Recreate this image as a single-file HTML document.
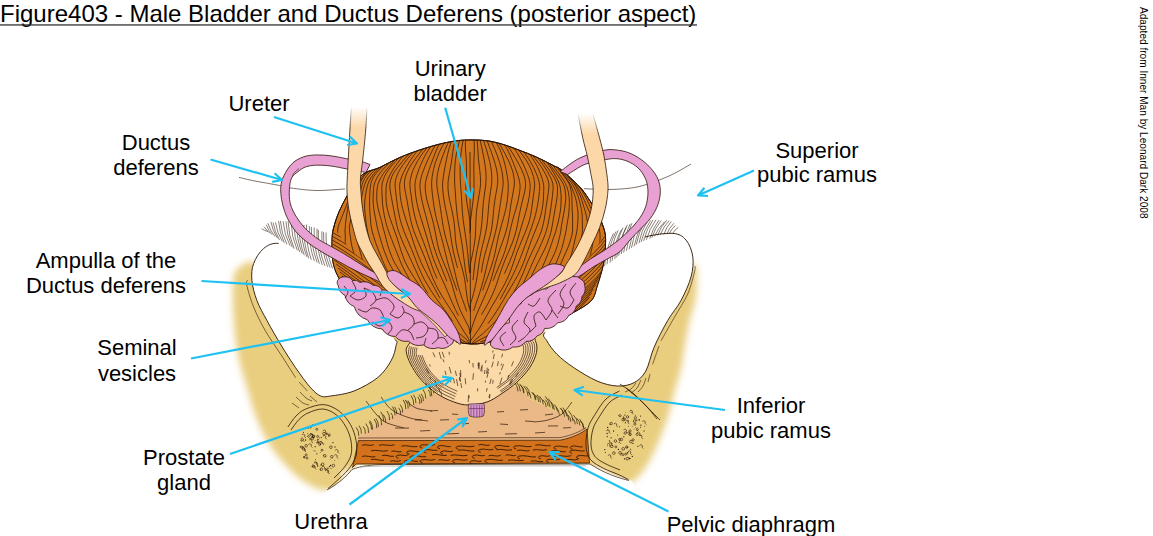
<!DOCTYPE html>
<html><head><meta charset="utf-8"><title>Figure403</title>
<style>html,body{margin:0;padding:0;background:#fff;}svg{display:block;}text{font-family:"Liberation Sans",sans-serif;}</style>
</head><body>
<svg width="1153" height="536" viewBox="0 0 1153 536">
<rect width="1153" height="536" fill="#fff"/>
<defs>
<filter id="blur" x="-20%" y="-20%" width="140%" height="140%"><feGaussianBlur stdDeviation="3.6"/></filter>
<linearGradient id="urL" x1="0" y1="106" x2="0" y2="128" gradientUnits="userSpaceOnUse"><stop offset="0" stop-color="#fff"/><stop offset="1" stop-color="#fcd7a8"/></linearGradient>
<linearGradient id="urLs" x1="0" y1="106" x2="0" y2="128" gradientUnits="userSpaceOnUse"><stop offset="0" stop-color="#fff"/><stop offset="1" stop-color="#2a1405"/></linearGradient>
<linearGradient id="urR" x1="0" y1="113" x2="0" y2="134" gradientUnits="userSpaceOnUse"><stop offset="0" stop-color="#fff"/><stop offset="1" stop-color="#fcd7a8"/></linearGradient>
<linearGradient id="urRs" x1="0" y1="113" x2="0" y2="134" gradientUnits="userSpaceOnUse"><stop offset="0" stop-color="#fff"/><stop offset="1" stop-color="#2a1405"/></linearGradient>
</defs>
<g filter="url(#blur)"><path d="M240.0,267.0 C243.7,265.0 246.0,258.5 256.0,264.0 C266.0,269.5 282.7,289.0 300.0,300.0 C317.3,311.0 331.7,325.0 360.0,330.0 C388.3,335.0 433.3,330.0 470.0,330.0 C506.7,330.0 551.7,335.0 580.0,330.0 C608.3,325.0 622.3,310.7 640.0,300.0 C657.7,289.3 676.7,271.3 686.0,266.0 C695.3,260.7 694.4,262.9 696.0,268.0 C697.6,273.1 696.8,288.0 695.8,296.7 C694.8,305.4 691.6,312.2 689.8,320.0 C688.0,327.8 686.4,335.7 685.0,343.5 C683.6,351.3 683.2,359.1 681.5,366.8 C679.8,374.6 677.1,382.2 675.0,390.0 C672.9,397.8 671.4,405.8 669.0,413.6 C666.6,421.4 663.7,429.3 660.5,437.0 C657.3,444.7 654.1,453.0 650.0,460.0 C645.9,467.0 641.0,475.0 636.0,479.0 C631.0,483.0 627.3,485.8 620.0,484.0 C612.7,482.2 617.0,470.7 592.0,468.0 C567.0,465.3 510.0,467.7 470.0,468.0 C430.0,468.3 373.7,467.0 352.0,470.0 C330.3,473.0 344.8,482.7 340.0,486.0 C335.2,489.3 329.3,491.0 323.0,490.0 C316.7,489.0 309.2,485.2 302.0,480.0 C294.8,474.8 286.2,466.2 280.0,459.0 C273.8,451.8 269.2,444.6 265.0,437.0 C260.8,429.4 257.6,421.4 254.7,413.6 C251.8,405.8 250.0,397.8 247.7,390.0 C245.4,382.2 242.6,374.6 240.7,366.8 C238.8,359.1 237.2,351.3 236.0,343.5 C234.8,335.7 234.2,327.8 233.7,320.0 C233.2,312.2 232.8,304.0 232.8,296.7 C232.8,289.4 232.5,280.9 233.7,276.0 C234.9,271.1 236.3,269.0 240.0,267.0Z" fill="#e9ce7f"/></g>
<path d="M250.0,275.0 C253.3,273.0 253.7,265.8 262.0,270.0 C270.3,274.2 283.7,290.0 300.0,300.0 C316.3,310.0 331.7,325.0 360.0,330.0 C388.3,335.0 433.3,330.0 470.0,330.0 C506.7,330.0 551.7,335.0 580.0,330.0 C608.3,325.0 623.3,309.7 640.0,300.0 C656.7,290.3 672.0,276.0 680.0,272.0 C688.0,268.0 686.8,271.9 688.0,276.0 C689.2,280.1 688.2,289.4 687.0,296.7 C685.8,304.0 682.8,312.2 681.0,320.0 C679.2,327.8 677.7,335.7 676.0,343.5 C674.3,351.3 673.0,359.1 671.0,366.8 C669.0,374.6 666.2,382.2 664.0,390.0 C661.8,397.8 660.3,405.8 658.0,413.6 C655.7,421.4 652.8,430.1 650.0,437.0 C647.2,443.9 644.5,449.5 641.0,455.0 C637.5,460.5 633.5,466.8 629.0,470.0 C624.5,473.2 620.2,475.3 614.0,474.0 C607.8,472.7 616.0,464.0 592.0,462.0 C568.0,460.0 510.0,462.0 470.0,462.0 C430.0,462.0 373.7,459.0 352.0,462.0 C330.3,465.0 344.5,476.3 340.0,480.0 C335.5,483.7 330.7,485.0 325.0,484.0 C319.3,483.0 312.5,478.8 306.0,474.0 C299.5,469.2 291.7,461.8 286.0,455.0 C280.3,448.2 275.8,440.5 272.0,433.0 C268.2,425.5 265.7,417.5 263.0,410.0 C260.3,402.5 258.3,395.3 256.0,388.0 C253.7,380.7 251.0,373.5 249.0,366.0 C247.0,358.5 245.2,350.7 244.0,343.0 C242.8,335.3 242.5,327.7 242.0,320.0 C241.5,312.3 241.0,303.3 241.0,297.0 C241.0,290.7 240.5,285.7 242.0,282.0 C243.5,278.3 246.7,277.0 250.0,275.0Z" fill="#e9ce7f"/>
<path d="M278.7,243.4 C272.0,242.8 267.8,245.1 263.6,248.5 C259.4,251.9 255.6,258.3 253.6,263.6 C251.6,268.9 251.4,274.2 251.9,280.3 C252.4,286.4 254.4,293.8 256.9,300.5 C259.4,307.2 263.1,313.4 267.0,320.6 C270.9,327.9 275.6,336.2 280.4,344.0 C285.1,351.8 290.5,360.3 295.5,367.6 C300.5,374.9 306.4,383.0 310.6,387.7 C314.8,392.4 317.4,394.6 320.7,396.0 C324.0,397.4 325.1,396.8 330.7,396.0 C336.2,395.2 346.2,394.1 354.0,391.0 C361.8,387.9 371.5,382.6 377.7,377.6 C383.9,372.6 387.9,366.2 391.0,360.9 C394.1,355.6 395.4,349.4 396.0,345.8 C396.6,342.2 398.7,342.6 394.5,339.0 C390.3,335.4 377.8,328.8 371.0,324.0 C364.2,319.2 358.8,315.5 354.0,310.5 C349.2,305.5 345.5,299.7 342.5,293.8 C339.5,287.9 339.6,280.3 336.0,275.0 C332.4,269.7 326.0,265.8 320.7,262.0 C315.4,258.2 311.0,255.1 304.0,252.0 C297.0,248.9 285.4,244.0 278.7,243.4Z" fill="#fff"/>
<path d="M278.7,243.4 C272.0,242.8 267.8,245.1 263.6,248.5 C259.4,251.9 255.6,258.3 253.6,263.6 C251.6,268.9 251.4,274.2 251.9,280.3 C252.4,286.4 254.4,293.8 256.9,300.5 C259.4,307.2 263.1,313.4 267.0,320.6 C270.9,327.9 275.6,336.2 280.4,344.0 C285.1,351.8 290.5,360.3 295.5,367.6 C300.5,374.9 306.4,383.0 310.6,387.7 C314.8,392.4 317.4,394.6 320.7,396.0 C324.0,397.4 325.1,396.8 330.7,396.0 C336.2,395.2 346.2,394.1 354.0,391.0 C361.8,387.9 371.5,382.6 377.7,377.6 C383.9,372.6 387.9,366.2 391.0,360.9 C394.1,355.6 395.4,349.4 396.0,345.8 C396.6,342.2 398.7,342.6 394.5,339.0" fill="none" stroke="#2a1405" stroke-width="0.9"/>
<path d="M672.7,233.4 C679.5,233.9 682.6,236.1 686.0,240.0 C689.4,243.9 692.0,250.7 692.8,256.9 C693.6,263.1 693.0,269.7 691.0,277.0 C689.0,284.3 684.9,293.2 681.0,300.5 C677.1,307.8 672.1,312.9 667.6,320.7 C663.1,328.5 657.6,339.1 654.0,347.5 C650.4,355.9 649.1,365.1 645.8,371.0 C642.5,376.9 638.8,380.2 634.0,382.7 C629.2,385.2 623.5,386.3 617.3,386.0 C611.1,385.7 604.3,384.1 597.0,381.0 C589.7,377.9 580.4,372.1 573.7,367.6 C567.0,363.1 561.4,358.7 556.9,354.2 C552.4,349.7 548.8,344.4 546.8,340.8 C544.8,337.2 541.6,336.4 545.0,332.4 C548.4,328.4 561.1,322.9 567.0,317.0 C572.9,311.1 575.2,303.2 580.4,297.0 C585.6,290.8 594.1,285.8 598.0,280.0 C601.9,274.2 600.3,267.5 604.0,262.0 C607.7,256.5 613.2,251.2 620.0,247.0 C626.8,242.8 636.2,239.3 645.0,237.0 C653.8,234.7 665.9,232.9 672.7,233.4Z" fill="#fff"/>
<path d="M645.0,237.0 C653.8,234.7 665.9,232.9 672.7,233.4 C679.5,233.9 682.6,236.1 686.0,240.0 C689.4,243.9 692.0,250.7 692.8,256.9 C693.6,263.1 693.0,269.7 691.0,277.0 C689.0,284.3 684.9,293.2 681.0,300.5 C677.1,307.8 672.1,312.9 667.6,320.7 C663.1,328.5 657.6,339.1 654.0,347.5 C650.4,355.9 649.1,365.1 645.8,371.0 C642.5,376.9 638.8,380.2 634.0,382.7 C629.2,385.2 623.5,386.3 617.3,386.0 C611.1,385.7 604.3,384.1 597.0,381.0 C589.7,377.9 580.4,372.1 573.7,367.6 C567.0,363.1 561.4,358.7 556.9,354.2 C552.4,349.7 548.8,344.4 546.8,340.8 C544.8,337.2 541.6,336.4 545.0,332.4" fill="none" stroke="#2a1405" stroke-width="0.9"/>
<g fill="none" stroke="#2a1405" stroke-width="0.6"><path d="M247.5,280.0 C247.4,280.9 245.8,280.8 246.8,285.3 C247.8,289.8 250.5,299.4 253.6,307.0 C256.7,314.6 260.8,322.9 265.3,330.7 C269.8,338.5 275.4,346.2 280.5,354.0 C285.6,361.8 293.1,373.8 295.6,377.7"/><path d="M299.0,382.0 C300.4,383.5 306.0,389.5 307.4,391.0"/><path d="M695.0,266.0 C694.9,267.0 695.7,267.4 694.5,272.0 C693.3,276.6 691.1,286.2 687.8,293.8 C684.4,301.4 678.9,309.5 674.4,317.3 C669.9,325.1 663.2,336.9 661.0,340.8"/><path d="M659.0,346.0 C657.9,349.1 653.7,361.2 652.6,364.3"/><path d="M300.0,392.0 C301.0,393.0 304.0,396.5 306.0,398.0 C308.0,399.5 311.0,400.5 312.0,401.0"/><path d="M296.0,397.0 C297.2,398.0 300.8,401.7 303.0,403.0 C305.2,404.3 308.0,404.7 309.0,405.0"/><path d="M292.0,403.0 C293.2,403.8 297.8,407.2 299.0,408.0"/><path d="M310.0,396.0 C311.2,397.0 315.8,401.0 317.0,402.0"/><path d="M636.0,383.0 C635.2,384.0 632.8,387.5 631.0,389.0 C629.2,390.5 626.0,391.5 625.0,392.0"/><path d="M641.0,380.0 C640.3,381.3 638.7,385.8 637.0,388.0 C635.3,390.2 632.0,392.2 631.0,393.0"/><path d="M646.0,378.0 C645.5,379.3 644.3,383.7 643.0,386.0 C641.7,388.3 638.8,391.0 638.0,392.0"/><path d="M650.0,374.0 C649.7,375.3 648.3,380.7 648.0,382.0"/></g>
<g fill="none" stroke="#2a1405" stroke-width="0.55"><path d="M267.8,231.5 Q264.4,230.7 261.6,228.7"/><path d="M269.9,233.2 Q266.4,230.5 264.2,226.8"/><path d="M272.3,234.8 Q268.3,230.4 266.3,224.7"/><path d="M275.0,236.5 Q270.1,230.6 267.9,223.2"/><path d="M277.4,238.2 Q272.5,230.6 270.9,221.8"/><path d="M279.5,239.9 Q274.6,231.8 273.1,222.6"/><path d="M282.3,241.4 Q277.0,232.6 275.5,222.4"/><path d="M284.3,242.9 Q279.3,232.5 278.6,221.1"/><path d="M286.9,244.3 Q281.3,233.3 280.4,220.9"/><path d="M290.0,245.8 Q284.1,234.2 283.1,221.2"/><path d="M292.3,247.3 Q286.5,235.0 285.9,221.4"/><path d="M294.2,248.8 Q288.4,235.6 288.1,221.3"/><path d="M297.3,250.4 Q291.3,236.7 291.1,221.8"/><path d="M299.6,252.0 Q293.7,237.7 293.7,222.2"/><path d="M302.2,253.7 Q296.3,238.6 296.6,222.5"/><path d="M304.3,255.3 Q298.5,240.1 299.0,223.9"/><path d="M306.9,256.9 Q300.9,241.3 301.3,224.7"/><path d="M308.7,258.4 Q303.0,242.2 304.0,225.0"/><path d="M311.3,259.8 Q305.4,242.6 306.6,224.5"/><path d="M314.4,261.1 Q308.4,244.1 309.4,226.1"/><path d="M317.2,262.5 Q310.7,245.3 311.4,226.9"/><path d="M319.4,263.8 Q313.2,246.2 314.2,227.4"/><path d="M322.3,265.1 Q316.0,247.3 317.0,228.6"/><path d="M324.9,265.9 Q318.0,248.6 318.3,230.0"/><path d="M327.6,266.8 Q321.2,249.6 321.8,231.3"/><path d="M330.0,267.6 Q323.2,250.6 323.5,232.2"/><path d="M332.5,268.5 Q325.6,251.1 326.0,232.5"/><path d="M604.6,266.0 Q605.8,248.8 613.5,233.4"/><path d="M607.0,264.3 Q608.2,247.0 616.0,231.5"/><path d="M610.1,262.6 Q610.9,245.6 618.1,230.3"/><path d="M612.1,260.8 Q613.6,244.3 621.4,229.6"/><path d="M614.8,259.1 Q615.7,242.6 623.0,227.7"/><path d="M616.6,257.4 Q618.3,241.4 626.0,227.3"/><path d="M618.7,255.7 Q620.0,239.4 627.4,224.8"/><path d="M621.2,254.0 Q622.7,238.2 630.1,224.1"/><path d="M623.7,252.5 Q625.0,237.0 632.0,223.1"/><path d="M626.3,250.9 Q628.1,236.4 635.3,223.6"/><path d="M629.1,249.4 Q630.8,235.2 637.9,222.8"/><path d="M631.5,247.8 Q633.2,234.5 640.0,222.8"/><path d="M634.1,246.3 Q636.4,233.4 643.6,222.3"/><path d="M636.2,244.7 Q638.5,231.8 645.6,220.9"/><path d="M638.9,243.2 Q641.1,230.9 647.8,220.4"/><path d="M641.1,242.0 Q643.7,230.3 650.6,220.5"/><path d="M643.6,240.9 Q646.2,229.5 653.0,220.0"/><path d="M646.4,239.8 Q649.2,228.8 656.1,219.8"/><path d="M649.8,238.6 Q652.6,228.5 659.0,220.1"/><path d="M651.9,237.5 Q654.9,228.1 661.3,220.5"/><path d="M654.5,236.4 Q658.0,228.0 664.6,221.6"/><path d="M657.5,235.4 Q660.6,226.9 666.8,220.2"/><path d="M660.1,235.0 Q663.2,226.9 669.2,220.6"/><path d="M663.7,234.7 Q666.1,227.3 671.3,221.5"/><path d="M666.7,234.3 Q669.1,228.1 673.8,223.3"/><path d="M669.2,233.9 Q671.4,229.1 675.3,225.5"/><path d="M672.5,233.5 Q674.8,229.8 678.4,227.3"/></g>
<g fill="none" stroke="#2a1405" stroke-width="0.6"><path d="M239.0,177.4 C241.7,178.0 248.2,179.7 255.0,181.0 C261.8,182.3 273.6,184.3 279.6,185.5 C285.6,186.7 284.9,187.2 291.0,188.0 C297.1,188.8 307.0,190.3 316.0,190.5 C325.0,190.7 340.2,189.2 345.0,189.0"/><path d="M584.0,188.7 C588.3,188.8 600.8,189.8 610.0,189.5 C619.2,189.2 629.2,188.8 639.0,186.6 C648.8,184.3 660.3,179.8 669.0,176.0 C677.7,172.2 687.3,166.0 691.0,164.0"/></g>
<path d="M358,437 L377,425 L404,409 L430,396 L440,390 L500,384 L521,388 L530,399 L560,414 L586,428 L586,442 L358,442 Z" fill="#ebb987"/>
<path d="M300,540 L300,512 L327,490.5 C338,484 347,476 352,469.5 L358,465 L590,464 C600,469 612,475 632,481 L660,540 Z" fill="#fff"/>
<path d="M358.4,440.6 L560,440.2 C572,438 582,433 587,429 L589.5,463 L356,464 L352.5,467.5 Z" fill="#d4721b" stroke="#2a1405" stroke-width="0.7"/>
<path d="M358,438 L560,437.6 C572,435.5 581,431 586,427.5" fill="none" stroke="#2a1405" stroke-width="0.6"/>
<clipPath id="cband"><path d="M358.4,440.6 L560,440.2 C572,438 582,433 587,429 L589.5,463 L356,464 Z"/></clipPath>
<g clip-path="url(#cband)" fill="none" stroke="#2a1405" stroke-width="0.85"><path d="M362.0,445.2 c3.9,-1.5 7.9,1.5 11.8,-0.5"/><path d="M379.0,445.2 c5.2,-1.5 10.3,1.5 15.5,-0.4"/><path d="M401.4,446.1 c5.3,-1.5 10.6,1.5 16.0,0.5"/><path d="M421.2,445.2 c4.5,-1.5 9.1,1.5 13.6,-0.8"/><path d="M421.2,445.2 c-2,0.5 -2,2.5 1,2.8"/><path d="M439.0,445.9 c3.9,-1.5 7.9,1.5 11.8,0.7"/><path d="M439.0,445.9 c-2,0.5 -2,2.5 1,2.8"/><path d="M457.5,446.4 c5.6,-1.5 11.3,1.5 16.9,-0.2"/><path d="M457.5,446.4 c-2,0.5 -2,2.5 1,2.8"/><path d="M478.4,444.9 c3.8,-1.5 7.6,1.5 11.4,0.2"/><path d="M496.1,445.8 c4.5,-1.5 8.9,1.5 13.4,0.5"/><path d="M496.1,445.8 c-2,0.5 -2,2.5 1,2.8"/><path d="M515.1,446.1 c5.5,-1.5 10.9,1.5 16.4,0.4"/><path d="M515.1,446.1 c-2,0.5 -2,2.5 1,2.8"/><path d="M535.2,445.2 c5.2,-1.5 10.3,1.5 15.5,0.5"/><path d="M555.3,446.4 c4.3,-1.5 8.5,1.5 12.8,0.4"/><path d="M555.3,446.4 c-2,0.5 -2,2.5 1,2.8"/><path d="M571.6,446.3 c3.7,-1.5 7.4,1.5 11.1,0.5"/><path d="M571.6,446.3 c-2,0.5 -2,2.5 1,2.8"/><path d="M371.0,450.8 c5.6,-1.5 11.2,1.5 16.9,-0.2"/><path d="M391.4,451.4 c3.4,-1.5 6.7,1.5 10.1,0.2"/><path d="M408.2,451.2 c4.3,-1.5 8.7,1.5 13.0,0.5"/><path d="M408.2,451.2 c-2,0.5 -2,2.5 1,2.8"/><path d="M425.3,450.0 c4.0,-1.5 8.0,1.5 12.1,0.1"/><path d="M425.3,450.0 c-2,0.5 -2,2.5 1,2.8"/><path d="M442.0,451.3 c3.6,-1.5 7.3,1.5 10.9,-0.2"/><path d="M442.0,451.3 c-2,0.5 -2,2.5 1,2.8"/><path d="M458.2,450.3 c5.4,-1.5 10.9,1.5 16.3,0.7"/><path d="M479.7,449.5 c4.6,-1.5 9.1,1.5 13.7,-0.1"/><path d="M479.7,449.5 c-2,0.5 -2,2.5 1,2.8"/><path d="M496.4,449.8 c5.2,-1.5 10.4,1.5 15.6,-0.0"/><path d="M517.2,450.5 c4.1,-1.5 8.2,1.5 12.3,0.1"/><path d="M532.9,450.0 c4.6,-1.5 9.3,1.5 13.9,-0.4"/><path d="M551.9,451.0 c4.6,-1.5 9.3,1.5 13.9,0.7"/><path d="M551.9,451.0 c-2,0.5 -2,2.5 1,2.8"/><path d="M571.2,450.5 c4.5,-1.5 9.0,1.5 13.5,0.3"/><path d="M571.2,450.5 c-2,0.5 -2,2.5 1,2.8"/><path d="M362.0,456.4 c4.4,-1.5 8.9,1.5 13.3,0.3"/><path d="M382.1,455.6 c3.9,-1.5 7.9,1.5 11.8,0.7"/><path d="M397.5,455.4 c3.6,-1.5 7.2,1.5 10.9,-0.7"/><path d="M397.5,455.4 c-2,0.5 -2,2.5 1,2.8"/><path d="M411.6,456.1 c4.9,-1.5 9.8,1.5 14.7,0.6"/><path d="M411.6,456.1 c-2,0.5 -2,2.5 1,2.8"/><path d="M432.2,454.8 c4.9,-1.5 9.7,1.5 14.6,0.6"/><path d="M450.7,455.3 c5.6,-1.5 11.1,1.5 16.7,-0.0"/><path d="M473.7,455.4 c3.7,-1.5 7.4,1.5 11.1,0.0"/><path d="M473.7,455.4 c-2,0.5 -2,2.5 1,2.8"/><path d="M488.6,455.9 c4.1,-1.5 8.2,1.5 12.2,-0.8"/><path d="M505.6,455.2 c3.4,-1.5 6.8,1.5 10.1,0.2"/><path d="M519.0,456.1 c5.6,-1.5 11.3,1.5 16.9,0.8"/><path d="M519.0,456.1 c-2,0.5 -2,2.5 1,2.8"/><path d="M539.9,456.1 c3.4,-1.5 6.9,1.5 10.3,-0.4"/><path d="M539.9,456.1 c-2,0.5 -2,2.5 1,2.8"/><path d="M554.9,456.1 c5.5,-1.5 10.9,1.5 16.4,-0.4"/><path d="M554.9,456.1 c-2,0.5 -2,2.5 1,2.8"/><path d="M577.9,455.9 c4.7,-1.5 9.3,1.5 14.0,-0.7"/><path d="M577.9,455.9 c-2,0.5 -2,2.5 1,2.8"/><path d="M371.0,459.6 c4.3,-1.5 8.7,1.5 13.0,0.7"/><path d="M390.2,461.2 c3.5,-1.5 7.1,1.5 10.6,-0.7"/><path d="M405.6,460.6 c4.1,-1.5 8.2,1.5 12.4,0.7"/><path d="M405.6,460.6 c-2,0.5 -2,2.5 1,2.8"/><path d="M421.5,460.0 c4.6,-1.5 9.1,1.5 13.7,-0.6"/><path d="M421.5,460.0 c-2,0.5 -2,2.5 1,2.8"/><path d="M438.4,460.1 c3.8,-1.5 7.6,1.5 11.4,-0.3"/><path d="M453.9,459.9 c4.5,-1.5 9.0,1.5 13.5,-0.2"/><path d="M453.9,459.9 c-2,0.5 -2,2.5 1,2.8"/><path d="M471.4,461.0 c3.4,-1.5 6.7,1.5 10.1,0.1"/><path d="M471.4,461.0 c-2,0.5 -2,2.5 1,2.8"/><path d="M486.4,459.7 c5.5,-1.5 11.0,1.5 16.5,0.5"/><path d="M486.4,459.7 c-2,0.5 -2,2.5 1,2.8"/><path d="M508.0,460.3 c5.3,-1.5 10.6,1.5 15.8,0.0"/><path d="M530.7,461.2 c4.1,-1.5 8.3,1.5 12.4,0.3"/><path d="M547.8,459.6 c4.1,-1.5 8.3,1.5 12.4,-0.6"/><path d="M547.8,459.6 c-2,0.5 -2,2.5 1,2.8"/><path d="M566.2,459.8 c3.9,-1.5 7.9,1.5 11.8,-0.7"/></g>
<path d="M327,490 C338,484 347,476 352,469.5 C362,465.5 372,464.8 385,464.5 L590,464 C598,469 610,476 629,480.5" fill="none" stroke="#2a1405" stroke-width="0.7"/>
<path d="M360,467 C368,466.5 376,466 390,466 L586,465.8" fill="none" stroke="#999" stroke-width="0.7"/>
<g fill="none" stroke="#2a1405" stroke-width="0.7"><path d="M395.0,428.0 l14.0,0.1"/><path d="M420.0,431.0 l10.0,-0.5"/><path d="M447.0,434.0 l12.0,-0.6"/><path d="M478.0,432.0 l9.0,-0.5"/><path d="M505.0,434.0 l12.0,-0.3"/><path d="M535.0,433.0 l10.0,-0.7"/><path d="M440.0,420.0 l9.0,-0.3"/><path d="M462.0,424.0 l7.0,-0.6"/><path d="M500.0,424.0 l8.0,0.5"/><path d="M525.0,421.0 l9.0,0.6"/><path d="M548.0,426.0 l10.0,-0.1"/><path d="M430.0,411.0 l8.0,-0.6"/><path d="M452.0,414.0 l6.0,0.5"/><path d="M497.0,412.0 l7.0,-0.5"/><path d="M520.0,410.0 l8.0,-0.4"/><path d="M545.0,415.0 l8.0,-1.0"/><path d="M563.0,428.0 l8.0,-0.4"/><path d="M415.0,420.0 l7.0,-0.2"/><path d="M470.0,412.0 l5.0,-0.2"/><path d="M366.0,401.0 C367.7,403.2 372.7,410.4 376.0,414.0 C379.3,417.6 381.3,420.2 386.0,422.5 C390.7,424.8 401.0,427.1 404.0,428.0"/><path d="M381.0,397.0 C382.8,399.2 387.2,406.5 392.0,410.0 C396.8,413.5 404.0,416.2 410.0,418.0 C416.0,419.8 425.0,420.5 428.0,421.0"/><path d="M405.0,400.0 C406.8,401.3 411.5,406.2 416.0,408.0 C420.5,409.8 429.3,410.5 432.0,411.0"/><path d="M572.0,402.0 C570.3,404.0 566.0,411.0 562.0,414.0 C558.0,417.0 552.7,418.7 548.0,420.0 C543.3,421.3 536.3,421.7 534.0,422.0"/></g>
<g fill="none" stroke="#2a1405" stroke-width="0.7"><path d="M358.8,435.9 q0.2,-5.1 -2.6,-8.5"/><path d="M361.4,433.7 q0.3,-4.8 -2.4,-8.0"/><path d="M365.3,433.6 q0.4,-4.3 -2.1,-7.2"/><path d="M368.6,432.9 q0.2,-5.6 -2.8,-9.3"/><path d="M371.5,429.4 q0.3,-4.6 -2.3,-7.6"/><path d="M372.6,429.7 q0.2,-5.5 -2.8,-9.2"/><path d="M376.8,428.1 q0.2,-5.5 -2.7,-9.1"/><path d="M378.4,426.9 q0.2,-5.2 -2.6,-8.6"/><path d="M381.7,425.3 q0.1,-6.1 -3.0,-10.1"/><path d="M383.6,421.2 q0.1,-5.7 -2.8,-9.5"/><path d="M385.6,422.3 q0.3,-4.7 -2.3,-7.8"/><path d="M389.6,420.1 q0.2,-5.5 -2.7,-9.1"/><path d="M392.6,418.8 q0.5,-3.6 -1.8,-6.0"/><path d="M395.0,415.3 q0.2,-5.2 -2.6,-8.7"/><path d="M396.7,414.2 q0.3,-4.4 -2.2,-7.3"/><path d="M400.7,414.8 q0.4,-4.2 -2.1,-7.0"/><path d="M402.6,412.5 q0.3,-4.7 -2.4,-7.9"/><path d="M405.8,409.0 q0.2,-5.5 -2.7,-9.1"/><path d="M408.2,408.5 q0.3,-4.4 -2.2,-7.3"/><path d="M409.8,406.6 q0.5,-3.6 -1.8,-6.1"/><path d="M413.8,405.1 q0.1,-5.7 -2.8,-9.5"/><path d="M415.9,403.1 q0.3,-5.0 -2.5,-8.3"/><path d="M419.9,403.9 q0.4,-4.2 -2.1,-7.0"/><path d="M421.6,402.9 q0.3,-5.0 -2.5,-8.3"/><path d="M423.4,401.1 q0.3,-4.4 -2.2,-7.3"/><path d="M425.7,398.4 q0.2,-5.3 -2.7,-8.9"/><path d="M430.3,396.5 q0.4,-4.0 -2.0,-6.7"/><path d="M431.8,396.1 q0.1,-5.7 -2.9,-9.5"/><path d="M433.7,393.5 q0.4,-3.7 -1.8,-6.1"/><path d="M436.6,391.6 q0.3,-4.5 -2.3,-7.5"/><path d="M584.1,429.3 q-0.4,-6.1 -4.6,-10.2"/><path d="M583.3,427.7 q0.1,-4.0 -3.0,-6.6"/><path d="M579.9,425.4 q-0.0,-4.5 -3.4,-7.4"/><path d="M577.5,424.1 q-0.2,-5.4 -4.0,-8.9"/><path d="M575.2,424.3 q0.2,-3.7 -2.8,-6.2"/><path d="M573.1,421.2 q-0.4,-6.4 -4.8,-10.7"/><path d="M570.9,421.9 q0.1,-4.2 -3.1,-6.9"/><path d="M568.9,420.3 q-0.4,-6.0 -4.5,-10.1"/><path d="M566.7,416.3 q-0.2,-5.2 -3.9,-8.7"/><path d="M564.6,416.8 q-0.1,-5.0 -3.7,-8.3"/><path d="M563.0,414.1 q0.2,-3.7 -2.8,-6.2"/><path d="M559.3,414.6 q-0.0,-4.6 -3.5,-7.7"/><path d="M557.4,411.7 q0.0,-4.4 -3.3,-7.3"/><path d="M554.4,410.1 q-0.1,-4.8 -3.6,-8.0"/><path d="M553.0,409.1 q-0.4,-6.3 -4.7,-10.5"/><path d="M550.1,407.3 q-0.5,-6.6 -4.9,-11.0"/><path d="M548.1,406.1 q0.1,-3.9 -2.9,-6.5"/><path d="M546.2,407.1 q0.0,-4.4 -3.3,-7.3"/><path d="M543.3,404.5 q-0.1,-4.8 -3.6,-8.1"/><path d="M540.5,402.5 q-0.0,-4.6 -3.5,-7.7"/><path d="M538.7,402.0 q0.1,-4.0 -3.0,-6.6"/><path d="M536.0,399.6 q0.0,-4.2 -3.2,-7.1"/><path d="M535.4,400.3 q-0.1,-4.9 -3.7,-8.2"/><path d="M530.9,398.3 q0.2,-3.7 -2.7,-6.1"/><path d="M529.7,394.8 q-0.1,-5.0 -3.8,-8.4"/><path d="M528.2,396.3 q-0.4,-6.4 -4.8,-10.6"/><path d="M524.1,392.6 q0.0,-4.3 -3.3,-7.2"/><path d="M523.8,393.2 q-0.3,-5.6 -4.2,-9.4"/><path d="M520.4,391.3 q-0.3,-5.9 -4.4,-9.8"/><path d="M518.1,391.3 q-0.3,-5.9 -4.5,-9.9"/></g>
<g fill="none" stroke="#2a1405" stroke-width="0.8"><path d="M287.9,427.0 C289.2,425.2 293.0,419.0 296.0,416.0 C299.0,413.0 301.2,410.9 305.8,409.0 C310.4,407.1 318.1,404.2 323.7,404.6 C329.3,405.0 334.9,408.0 339.4,411.3 C343.9,414.6 347.7,419.9 350.5,424.7 C353.3,429.5 355.1,435.2 356.0,440.4 C356.9,445.6 357.3,451.1 356.0,456.0 C354.7,460.9 351.5,465.4 348.3,469.5 C345.1,473.6 340.4,477.5 337.0,480.7 C333.6,483.9 329.5,487.2 328.0,488.5"/><path d="M291.0,430.0 C292.3,428.2 296.2,422.3 299.0,419.5 C301.8,416.7 304.0,414.8 308.0,413.0 C312.0,411.2 318.2,408.7 323.0,409.0 C327.8,409.3 332.7,412.0 336.5,415.0 C340.3,418.0 343.6,422.7 346.0,427.0 C348.4,431.3 350.2,436.3 351.0,441.0 C351.8,445.7 352.1,450.7 351.0,455.0 C349.9,459.3 347.3,463.2 344.5,467.0 C341.7,470.8 335.8,476.2 334.0,478.0"/><path d="M619.5,391.0 C617.2,392.3 610.1,395.1 606.0,399.0 C601.9,402.9 597.9,409.9 594.9,414.7 C591.9,419.5 589.5,422.8 588.0,428.0 C586.5,433.2 585.6,440.8 586.0,446.0 C586.4,451.2 587.4,455.8 590.4,459.5 C593.4,463.2 598.9,465.8 603.8,468.4 C608.6,471.0 615.4,473.1 619.5,475.0 C623.6,476.9 626.9,478.8 628.4,479.6"/><path d="M622.0,395.0 C620.0,396.2 613.8,398.4 610.0,402.0 C606.2,405.6 602.3,412.0 599.5,416.5 C596.7,421.0 594.4,424.2 593.0,429.0 C591.6,433.8 590.7,440.4 591.0,445.0 C591.3,449.6 592.5,453.3 595.0,456.5 C597.5,459.7 601.8,461.8 606.0,464.0 C610.2,466.2 617.7,469.0 620.0,470.0"/><path d="M626.0,388.0 C628.3,390.0 635.7,396.0 640.0,400.0 C644.3,404.0 648.7,408.7 652.0,412.0 C655.3,415.3 658.7,418.7 660.0,420.0"/><path d="M620.0,384.0 C622.3,385.7 629.3,390.0 634.0,394.0 C638.7,398.0 644.2,403.8 648.0,408.0 C651.8,412.2 655.5,417.2 657.0,419.0"/></g>
<g fill="none" stroke="#2a1405" stroke-width="0.6"><circle cx="319.3" cy="438.1" r="0.48" fill="#2a1405" stroke="none"/><circle cx="325.8" cy="456.7" r="0.42" fill="#2a1405" stroke="none"/><circle cx="320.2" cy="452.6" r="0.47" fill="#2a1405" stroke="none"/><circle cx="312.8" cy="424.8" r="0.54" fill="#2a1405" stroke="none"/><path d="M335.1,450.4 q1.5,-2 3,0 q-1,2 1,3"/><circle cx="312.7" cy="436.8" r="0.69" fill="#2a1405" stroke="none"/><circle cx="321.2" cy="437.6" r="0.55" fill="#2a1405" stroke="none"/><circle cx="322.2" cy="443.2" r="0.60" fill="#2a1405" stroke="none"/><circle cx="300.3" cy="446.8" r="0.60" fill="#2a1405" stroke="none"/><circle cx="313.5" cy="466.5" r="1.10"/><circle cx="317.5" cy="466.2" r="0.47" fill="#2a1405" stroke="none"/><path d="M322.8,436.3 q1.5,-2 3,0 q-1,2 1,3"/><circle cx="312.5" cy="434.4" r="0.53" fill="#2a1405" stroke="none"/><circle cx="331.0" cy="468.2" r="0.52" fill="#2a1405" stroke="none"/><path d="M302.1,449.1 q1.5,-2 3,0 q-1,2 1,3"/><path d="M334.2,455.5 q1.5,-2 3,0 q-1,2 1,3"/><circle cx="328.9" cy="435.9" r="0.68" fill="#2a1405" stroke="none"/><circle cx="321.2" cy="441.4" r="0.50" fill="#2a1405" stroke="none"/><path d="M308.4,444.6 q1.5,-2 3,0 q-1,2 1,3"/><circle cx="306.2" cy="445.7" r="1.29"/><circle cx="308.1" cy="428.6" r="0.51" fill="#2a1405" stroke="none"/><circle cx="320.5" cy="469.2" r="0.52" fill="#2a1405" stroke="none"/><circle cx="332.5" cy="457.9" r="0.41" fill="#2a1405" stroke="none"/><path d="M314.5,463.4 q1.5,-2 3,0 q-1,2 1,3"/><path d="M309.0,440.2 q1.5,-2 3,0 q-1,2 1,3"/><circle cx="317.7" cy="436.5" r="0.99"/><circle cx="333.3" cy="465.6" r="1.37"/><path d="M325.0,470.7 q1.5,-2 3,0 q-1,2 1,3"/><circle cx="310.1" cy="438.6" r="0.55" fill="#2a1405" stroke="none"/><circle cx="331.8" cy="456.7" r="1.26"/><circle cx="318.5" cy="439.7" r="0.51" fill="#2a1405" stroke="none"/><circle cx="312.7" cy="464.4" r="0.42" fill="#2a1405" stroke="none"/><circle cx="304.0" cy="456.9" r="0.69" fill="#2a1405" stroke="none"/><circle cx="303.4" cy="432.2" r="0.55" fill="#2a1405" stroke="none"/><circle cx="323.8" cy="444.1" r="0.53" fill="#2a1405" stroke="none"/><circle cx="324.8" cy="455.8" r="1.31"/><circle cx="316.8" cy="429.3" r="0.98"/><circle cx="318.0" cy="442.3" r="0.92"/><circle cx="305.6" cy="440.0" r="0.67" fill="#2a1405" stroke="none"/><circle cx="317.5" cy="439.9" r="0.70" fill="#2a1405" stroke="none"/><circle cx="313.6" cy="436.3" r="1.19"/><circle cx="322.7" cy="464.3" r="1.35"/><path d="M300.5,438.9 q1.5,-2 3,0 q-1,2 1,3"/><circle cx="328.0" cy="468.2" r="0.66" fill="#2a1405" stroke="none"/><circle cx="312.3" cy="438.3" r="1.37"/><circle cx="307.1" cy="458.1" r="0.93"/><circle cx="307.7" cy="433.7" r="0.48" fill="#2a1405" stroke="none"/><circle cx="323.8" cy="455.0" r="0.40" fill="#2a1405" stroke="none"/><circle cx="315.5" cy="459.4" r="0.49" fill="#2a1405" stroke="none"/><circle cx="313.6" cy="466.3" r="0.42" fill="#2a1405" stroke="none"/><circle cx="303.5" cy="448.7" r="1.18"/><circle cx="322.7" cy="442.5" r="0.49" fill="#2a1405" stroke="none"/><circle cx="329.3" cy="434.9" r="1.01"/><path d="M321.6,467.1 q1.5,-2 3,0 q-1,2 1,3"/><circle cx="308.5" cy="436.4" r="0.92"/><circle cx="321.1" cy="464.9" r="0.66" fill="#2a1405" stroke="none"/><circle cx="311.0" cy="433.6" r="0.57" fill="#2a1405" stroke="none"/><circle cx="329.5" cy="466.6" r="0.59" fill="#2a1405" stroke="none"/><circle cx="314.0" cy="450.7" r="0.48" fill="#2a1405" stroke="none"/><circle cx="326.0" cy="468.7" r="0.55" fill="#2a1405" stroke="none"/><path d="M301.9,435.0 q1.5,-2 3,0 q-1,2 1,3"/><circle cx="332.9" cy="442.6" r="0.68" fill="#2a1405" stroke="none"/><circle cx="321.3" cy="469.3" r="1.29"/><circle cx="312.1" cy="466.4" r="0.52" fill="#2a1405" stroke="none"/><circle cx="334.7" cy="460.4" r="0.47" fill="#2a1405" stroke="none"/><circle cx="315.1" cy="451.0" r="0.44" fill="#2a1405" stroke="none"/><path d="M313.8,462.5 q1.5,-2 3,0 q-1,2 1,3"/><circle cx="304.4" cy="457.3" r="0.82"/><circle cx="322.0" cy="450.2" r="0.98"/><circle cx="316.9" cy="453.8" r="0.60" fill="#2a1405" stroke="none"/><circle cx="315.2" cy="446.7" r="0.59" fill="#2a1405" stroke="none"/><circle cx="313.1" cy="436.7" r="1.27"/><circle cx="311.2" cy="434.4" r="0.43" fill="#2a1405" stroke="none"/><circle cx="304.9" cy="450.1" r="0.53" fill="#2a1405" stroke="none"/><circle cx="310.5" cy="427.3" r="0.85"/><circle cx="330.2" cy="459.3" r="0.42" fill="#2a1405" stroke="none"/><path d="M316.0,443.2 q1.5,-2 3,0 q-1,2 1,3"/><path d="M322.8,430.9 q1.5,-2 3,0 q-1,2 1,3"/><path d="M325.6,470.5 q1.5,-2 3,0 q-1,2 1,3"/><path d="M312.2,466.4 q1.5,-2 3,0 q-1,2 1,3"/><circle cx="301.6" cy="447.1" r="0.90"/><circle cx="326.8" cy="433.8" r="0.89"/><circle cx="325.3" cy="468.7" r="0.48" fill="#2a1405" stroke="none"/><circle cx="315.1" cy="440.4" r="0.45" fill="#2a1405" stroke="none"/><circle cx="330.5" cy="465.5" r="0.64" fill="#2a1405" stroke="none"/><circle cx="306.2" cy="454.9" r="1.02"/><circle cx="330.9" cy="447.2" r="1.33"/><circle cx="320.3" cy="442.5" r="0.96"/><circle cx="335.0" cy="446.9" r="0.63" fill="#2a1405" stroke="none"/><circle cx="310.6" cy="434.5" r="0.83"/><circle cx="324.0" cy="433.7" r="1.39"/><circle cx="323.5" cy="455.7" r="0.40" fill="#2a1405" stroke="none"/><circle cx="320.5" cy="444.5" r="0.67" fill="#2a1405" stroke="none"/><circle cx="301.6" cy="440.5" r="0.81"/><circle cx="303.0" cy="446.9" r="0.58" fill="#2a1405" stroke="none"/><circle cx="634.9" cy="424.1" r="1.08"/><circle cx="624.9" cy="415.1" r="0.59" fill="#2a1405" stroke="none"/><circle cx="628.8" cy="457.6" r="0.48" fill="#2a1405" stroke="none"/><circle cx="630.1" cy="430.8" r="1.07"/><circle cx="632.3" cy="456.4" r="0.67" fill="#2a1405" stroke="none"/><circle cx="607.9" cy="430.2" r="0.47" fill="#2a1405" stroke="none"/><path d="M606.4,430.6 q1.5,-2 3,0 q-1,2 1,3"/><circle cx="620.1" cy="415.7" r="1.10"/><circle cx="620.3" cy="455.0" r="0.49" fill="#2a1405" stroke="none"/><path d="M629.5,411.2 q1.5,-2 3,0 q-1,2 1,3"/><circle cx="627.7" cy="452.7" r="0.65" fill="#2a1405" stroke="none"/><circle cx="633.1" cy="439.8" r="1.07"/><circle cx="625.5" cy="412.6" r="0.41" fill="#2a1405" stroke="none"/><circle cx="611.8" cy="446.3" r="1.31"/><circle cx="637.3" cy="429.4" r="1.06"/><circle cx="633.0" cy="443.4" r="0.59" fill="#2a1405" stroke="none"/><circle cx="623.1" cy="419.7" r="1.37"/><path d="M636.9,433.0 q1.5,-2 3,0 q-1,2 1,3"/><path d="M625.3,421.1 q1.5,-2 3,0 q-1,2 1,3"/><circle cx="623.2" cy="448.9" r="1.39"/><circle cx="613.9" cy="453.1" r="1.31"/><circle cx="615.9" cy="446.9" r="0.98"/><circle cx="611.1" cy="437.8" r="0.67" fill="#2a1405" stroke="none"/><circle cx="628.4" cy="416.6" r="0.41" fill="#2a1405" stroke="none"/><circle cx="626.8" cy="447.1" r="1.24"/><circle cx="607.1" cy="433.5" r="0.65" fill="#2a1405" stroke="none"/><circle cx="618.8" cy="415.4" r="0.41" fill="#2a1405" stroke="none"/><circle cx="627.2" cy="458.7" r="1.30"/><circle cx="634.1" cy="428.9" r="0.43" fill="#2a1405" stroke="none"/><circle cx="640.5" cy="427.2" r="0.53" fill="#2a1405" stroke="none"/><circle cx="611.0" cy="443.6" r="0.50" fill="#2a1405" stroke="none"/><path d="M639.4,445.6 q1.5,-2 3,0 q-1,2 1,3"/><circle cx="640.5" cy="416.1" r="0.53" fill="#2a1405" stroke="none"/><circle cx="637.2" cy="434.4" r="1.12"/><circle cx="604.8" cy="449.6" r="0.65" fill="#2a1405" stroke="none"/><path d="M607.0,444.5 q1.5,-2 3,0 q-1,2 1,3"/><circle cx="607.7" cy="427.5" r="0.64" fill="#2a1405" stroke="none"/><circle cx="613.6" cy="431.0" r="0.65" fill="#2a1405" stroke="none"/><circle cx="624.4" cy="419.0" r="1.10"/><circle cx="607.3" cy="436.6" r="0.64" fill="#2a1405" stroke="none"/><circle cx="622.9" cy="454.7" r="1.01"/><path d="M623.5,430.0 q1.5,-2 3,0 q-1,2 1,3"/><circle cx="605.3" cy="452.4" r="0.51" fill="#2a1405" stroke="none"/><circle cx="644.0" cy="430.9" r="0.56" fill="#2a1405" stroke="none"/><circle cx="625.7" cy="454.1" r="1.01"/><circle cx="627.5" cy="416.9" r="1.20"/><circle cx="640.9" cy="425.2" r="0.63" fill="#2a1405" stroke="none"/><circle cx="636.7" cy="420.1" r="0.67" fill="#2a1405" stroke="none"/><circle cx="623.5" cy="417.1" r="0.61" fill="#2a1405" stroke="none"/><circle cx="644.7" cy="426.3" r="0.47" fill="#2a1405" stroke="none"/><circle cx="617.6" cy="434.9" r="0.50" fill="#2a1405" stroke="none"/><path d="M642.3,421.6 q1.5,-2 3,0 q-1,2 1,3"/><path d="M613.8,424.1 q1.5,-2 3,0 q-1,2 1,3"/><circle cx="627.6" cy="453.8" r="0.46" fill="#2a1405" stroke="none"/><circle cx="639.2" cy="420.2" r="0.52" fill="#2a1405" stroke="none"/><circle cx="611.2" cy="423.5" r="1.22"/><circle cx="620.5" cy="443.5" r="0.44" fill="#2a1405" stroke="none"/><circle cx="630.0" cy="434.2" r="1.34"/><circle cx="619.7" cy="439.4" r="1.05"/><path d="M609.0,443.0 q1.5,-2 3,0 q-1,2 1,3"/><path d="M627.8,451.8 q1.5,-2 3,0 q-1,2 1,3"/><circle cx="626.2" cy="447.2" r="0.49" fill="#2a1405" stroke="none"/><circle cx="639.1" cy="419.6" r="0.63" fill="#2a1405" stroke="none"/><circle cx="627.6" cy="447.3" r="0.53" fill="#2a1405" stroke="none"/><circle cx="619.2" cy="442.2" r="0.60" fill="#2a1405" stroke="none"/><circle cx="621.7" cy="453.5" r="0.55" fill="#2a1405" stroke="none"/><circle cx="634.6" cy="421.1" r="1.36"/><circle cx="635.4" cy="417.7" r="1.12"/><circle cx="630.9" cy="441.6" r="1.30"/><path d="M627.1,433.0 q1.5,-2 3,0 q-1,2 1,3"/><circle cx="609.4" cy="440.8" r="0.63" fill="#2a1405" stroke="none"/><circle cx="631.1" cy="412.6" r="0.52" fill="#2a1405" stroke="none"/><circle cx="610.0" cy="424.1" r="0.61" fill="#2a1405" stroke="none"/><circle cx="625.4" cy="422.8" r="0.62" fill="#2a1405" stroke="none"/><circle cx="637.9" cy="446.3" r="0.64" fill="#2a1405" stroke="none"/><circle cx="628.1" cy="420.9" r="0.63" fill="#2a1405" stroke="none"/><circle cx="630.7" cy="449.2" r="0.57" fill="#2a1405" stroke="none"/><circle cx="615.4" cy="441.1" r="1.29"/><circle cx="628.5" cy="426.3" r="0.44" fill="#2a1405" stroke="none"/><path d="M639.0,435.9 q1.5,-2 3,0 q-1,2 1,3"/><circle cx="619.6" cy="426.7" r="0.53" fill="#2a1405" stroke="none"/><circle cx="637.3" cy="430.3" r="0.49" fill="#2a1405" stroke="none"/><circle cx="625.2" cy="433.1" r="1.20"/><path d="M607.9,455.6 q1.5,-2 3,0 q-1,2 1,3"/><circle cx="629.9" cy="458.4" r="0.65" fill="#2a1405" stroke="none"/><circle cx="635.9" cy="427.6" r="0.44" fill="#2a1405" stroke="none"/><circle cx="607.7" cy="445.7" r="0.45" fill="#2a1405" stroke="none"/><circle cx="629.6" cy="458.7" r="0.67" fill="#2a1405" stroke="none"/><circle cx="620.1" cy="452.8" r="1.34"/><circle cx="624.5" cy="458.9" r="0.61" fill="#2a1405" stroke="none"/><circle cx="618.5" cy="449.4" r="0.66" fill="#2a1405" stroke="none"/><circle cx="632.2" cy="426.4" r="0.44" fill="#2a1405" stroke="none"/><circle cx="635.6" cy="415.2" r="0.44" fill="#2a1405" stroke="none"/><circle cx="623.8" cy="436.8" r="0.66" fill="#2a1405" stroke="none"/><circle cx="621.3" cy="439.5" r="1.30"/></g>
<clipPath id="cpro"><path d="M407.7,345.9 C405.5,348.6 406.0,350.7 406.8,354.3 C407.6,357.9 409.9,363.0 412.4,367.3 C414.9,371.6 417.7,376.0 421.7,380.4 C425.7,384.8 431.3,389.8 436.6,393.4 C441.9,397.0 448.1,399.9 453.4,401.8 C458.7,403.7 462.8,405.0 468.4,405.0 C474.0,405.0 481.4,403.9 487.0,402.0 C492.6,400.1 497.0,396.7 502.0,393.4 C507.0,390.1 512.2,386.5 516.9,382.2 C521.5,377.9 526.6,372.3 529.9,367.3 C533.2,362.3 535.6,356.8 536.5,352.4 C537.4,348.0 536.9,343.7 535.5,341.2 C534.1,338.7 538.9,338.9 528.0,337.5 C517.1,336.1 488.0,332.9 470.0,333.0 C452.0,333.1 430.4,335.9 420.0,338.0 C409.6,340.1 409.9,343.2 407.7,345.9Z"/></clipPath>
<path d="M407.7,345.9 C405.5,348.6 406.0,350.7 406.8,354.3 C407.6,357.9 409.9,363.0 412.4,367.3 C414.9,371.6 417.7,376.0 421.7,380.4 C425.7,384.8 431.3,389.8 436.6,393.4 C441.9,397.0 448.1,399.9 453.4,401.8 C458.7,403.7 462.8,405.0 468.4,405.0 C474.0,405.0 481.4,403.9 487.0,402.0 C492.6,400.1 497.0,396.7 502.0,393.4 C507.0,390.1 512.2,386.5 516.9,382.2 C521.5,377.9 526.6,372.3 529.9,367.3 C533.2,362.3 535.6,356.8 536.5,352.4 C537.4,348.0 536.9,343.7 535.5,341.2 C534.1,338.7 538.9,338.9 528.0,337.5 C517.1,336.1 488.0,332.9 470.0,333.0 C452.0,333.1 430.4,335.9 420.0,338.0 C409.6,340.1 409.9,343.2 407.7,345.9Z" fill="#fbdaa8" stroke="#2a1405" stroke-width="0.9"/>
<g clip-path="url(#cpro)" fill="none" stroke="#2a1405" stroke-width="0.65"><path d="M409.6,346.3 C409.4,347.6 407.9,351.0 408.7,354.4 C409.5,357.9 411.7,362.8 414.1,367.0 C416.5,371.2 419.2,375.5 423.1,379.7 C427.1,383.9 435.2,390.2 437.6,392.3"/><path d="M411.4,346.6 C411.3,347.9 409.9,351.2 410.6,354.5 C411.3,357.9 413.5,362.7 415.9,366.7 C418.2,370.8 420.8,375.0 424.6,379.1 C428.4,383.1 433.6,387.9 438.6,391.3 C443.6,394.6 451.8,397.9 454.4,399.2"/><path d="M413.3,347.0 C413.2,348.3 411.8,351.4 412.5,354.6 C413.2,357.9 415.3,362.5 417.6,366.5 C419.8,370.4 422.4,374.4 426.0,378.4 C429.7,382.3 437.3,388.2 439.6,390.2"/><path d="M415.2,347.4 C415.0,348.6 413.7,351.6 414.4,354.7 C415.1,357.9 417.1,362.4 419.3,366.2 C421.5,370.0 423.9,373.9 427.5,377.7 C431.0,381.5 436.0,386.0 440.6,389.2 C445.3,392.3 452.9,395.3 455.4,396.5"/><path d="M417.0,347.7 C416.9,348.9 415.6,351.8 416.3,354.9 C416.9,357.9 418.9,362.2 421.0,365.9 C423.2,369.6 425.5,373.3 428.9,377.0 C432.4,380.7 439.5,386.2 441.6,388.1"/><path d="M418.2,355.0 C418.9,356.7 420.7,362.1 422.8,365.6 C424.8,369.2 427.1,372.8 430.4,376.4 C433.7,379.9 438.3,384.1 442.6,387.0 C446.9,390.0 454.1,392.8 456.4,393.9"/><path d="M420.1,355.1 C420.8,356.8 422.5,361.9 424.5,365.3 C426.5,368.8 428.7,372.3 431.8,375.7 C435.0,379.1 441.7,384.3 443.6,386.0"/><path d="M422.0,355.2 C422.7,356.8 424.3,361.8 426.2,365.1 C428.1,368.4 430.2,371.7 433.3,375.0 C436.4,378.3 440.6,382.2 444.6,384.9 C448.6,387.6 455.3,390.2 457.4,391.3"/><path d="M500.9,392.2 C503.3,390.4 510.9,385.6 515.4,381.4 C519.8,377.2 524.8,371.8 527.9,367.0 C531.1,362.2 533.4,356.8 534.3,352.6 C535.2,348.3 534.7,344.1 533.3,341.7 C532.0,339.3 527.3,338.7 526.1,338.1"/><path d="M499.9,391.0 C502.2,389.3 509.5,384.6 513.8,380.5 C518.1,376.5 522.9,371.3 525.9,366.6 C529.0,362.0 531.2,356.8 532.1,352.7 C533.0,348.6 532.5,344.6 531.2,342.2 C529.9,339.9 525.3,339.4 524.2,338.8"/><path d="M512.3,379.7 C514.2,377.5 521.0,370.8 524.0,366.3 C526.9,361.8 529.1,356.8 529.9,352.9 C530.8,348.9 530.3,345.0 529.0,342.8 C527.7,340.5 523.4,340.0 522.3,339.4"/><path d="M497.8,388.6 C499.9,387.0 506.7,382.7 510.7,378.9 C514.7,375.1 519.2,370.3 522.0,366.0 C524.8,361.6 526.9,356.8 527.7,353.0 C528.5,349.2 528.1,345.5 526.9,343.3 C525.6,341.1 521.4,340.6 520.3,340.1"/><path d="M496.7,387.4 C498.8,385.9 505.3,381.7 509.2,378.1 C513.0,374.4 517.3,369.8 520.0,365.6 C522.7,361.5 524.7,356.8 525.5,353.2 C526.3,349.5 525.9,345.9 524.7,343.8 C523.5,341.7 519.5,341.2 518.4,340.7"/><path d="M507.6,377.2 C509.4,375.2 515.4,369.3 518.0,365.3 C520.7,361.3 522.6,356.8 523.3,353.3 C524.1,349.8 523.7,346.3 522.5,344.3 C521.4,342.4 517.5,341.9 516.5,341.4"/><path d="M460.6,370.1 l0.2,6.8"/><path d="M485.5,380.5 l-0.2,2.1"/><path d="M489.8,394.7 l-0.2,3.7"/><path d="M473.5,373.3 l-0.7,6.5"/><path d="M493.2,380.0 l-0.5,3.7"/><path d="M459.8,372.8 l0.7,4.6"/><path d="M445.0,370.9 l1.1,4.1"/><path d="M503.5,364.1 l-2.2,6.1"/><path d="M472.9,363.0 l0.3,4.5"/><path d="M487.2,388.0 l-0.8,3.7"/><path d="M453.4,378.1 l1.1,5.2"/><path d="M428.8,384.7 l2.7,6.4"/><path d="M429.7,364.4 l0.5,2.0"/><path d="M512.5,379.2 l-2.0,5.3"/><path d="M511.4,379.4 l-2.0,5.1"/><path d="M491.2,378.6 l-1.4,5.4"/><path d="M488.4,372.0 l-1.5,5.8"/><path d="M442.2,351.8 l2.0,5.9"/><path d="M487.3,367.7 l-0.8,6.1"/><path d="M478.4,362.4 l-0.4,3.5"/><path d="M455.3,370.7 l1.2,5.2"/><path d="M430.2,377.2 l0.5,2.2"/><path d="M502.0,377.6 l-2.2,6.6"/><path d="M426.3,368.6 l2.6,5.0"/><path d="M518.2,372.8 l-2.4,4.1"/><path d="M486.2,360.2 l-0.9,2.8"/><path d="M425.5,382.8 l1.6,2.6"/><path d="M433.4,391.7 l0.5,2.6"/><path d="M493.3,361.6 l-1.6,5.7"/><path d="M429.8,387.2 l2.6,5.6"/><path d="M494.3,354.0 l-1.0,5.1"/><path d="M468.8,394.8 l0.5,3.3"/><path d="M493.1,350.5 l-0.3,2.1"/><path d="M502.6,353.8 l-0.9,3.6"/><path d="M440.8,391.3 l0.9,4.4"/><path d="M459.9,377.6 l0.6,4.2"/><path d="M438.8,388.3 l1.3,3.8"/><path d="M484.8,370.1 l-0.3,3.9"/><path d="M514.8,387.7 l-2.4,4.8"/><path d="M430.8,396.7 l2.5,5.5"/><path d="M456.5,379.1 l1.3,6.9"/><path d="M482.1,364.8 l-0.1,4.1"/><path d="M460.8,382.9 l0.9,5.0"/><path d="M501.7,363.6 l-0.9,2.0"/><path d="M465.1,378.2 l0.7,6.1"/><path d="M429.0,390.0 l2.9,6.1"/><path d="M479.3,363.1 l-0.3,6.3"/><path d="M490.0,393.9 l-1.2,3.7"/><path d="M477.6,388.3 l0.0,3.0"/><path d="M513.5,361.2 l-2.0,5.0"/><path d="M469.2,359.9 l0.3,3.3"/><path d="M500.2,372.1 l-0.4,2.4"/><path d="M498.4,361.2 l-1.0,4.9"/><path d="M509.1,375.0 l-1.6,4.4"/><path d="M443.0,359.2 l1.0,2.9"/><path d="M459.5,377.1 l0.4,4.0"/><path d="M439.2,352.1 l2.0,7.0"/><path d="M435.1,380.4 l1.7,5.9"/><path d="M481.7,366.6 l-1.0,4.6"/><path d="M428.2,397.5 l2.6,6.3"/><path d="M478.9,362.6 l-0.6,5.9"/><path d="M514.9,386.8 l-2.3,6.1"/><path d="M449.1,351.8 l0.3,3.0"/><path d="M432.9,352.4 l2.1,4.8"/><path d="M468.5,395.5 l-0.3,6.5"/><path d="M481.8,369.1 l0.2,2.6"/><path d="M449.4,377.1 l1.5,5.2"/><path d="M488.6,368.9 l-1.1,4.2"/><path d="M516.7,397.6 l-1.9,3.1"/><path d="M449.3,366.9 l1.8,6.5"/></g>
<path d="M468.6,404 C468,408 468,413 469.5,416 C473,417.6 480,417.6 483.5,416 C485,412 484.6,407 484,403.5 Z" fill="#d79acb" stroke="#2a1405" stroke-width="0.6"/>
<path d="M471,405 v11 M473.8,405 v12 M476.8,405 v12 M479.6,405 v12 M482,405 v11 M469,408.5 h15" fill="none" stroke="#6a2a68" stroke-width="0.6"/>
<clipPath id="cb"><path d="M472.0,139.9 C466.8,139.9 462.1,140.0 456.3,140.8 C450.5,141.6 444.1,142.9 437.2,144.7 C430.3,146.5 421.3,149.4 414.7,151.7 C408.1,154.0 403.1,156.0 397.3,158.6 C391.5,161.2 386.2,164.3 380.0,167.3 C373.8,170.3 366.6,170.3 360.3,176.5 C354.0,182.7 346.9,195.9 342.4,204.6 C337.9,213.3 335.1,221.6 333.4,228.5 C331.7,235.4 332.0,240.1 332.0,246.0 C332.0,251.9 332.1,258.3 333.4,264.0 C334.7,269.7 336.9,274.8 340.0,280.0 C343.1,285.2 346.7,290.5 352.0,295.0 C357.3,299.5 360.7,301.3 372.0,307.0 C383.3,312.7 403.5,322.8 420.0,329.0 C436.5,335.2 454.3,343.3 471.0,344.0 C487.7,344.7 506.0,336.8 520.0,333.0 C534.0,329.2 546.1,324.4 555.0,321.0 C563.9,317.6 567.4,315.9 573.4,312.5 C579.4,309.1 587.3,305.1 591.3,300.6 C595.3,296.1 595.3,291.7 597.3,285.7 C599.3,279.7 601.9,271.3 603.3,264.8 C604.6,258.3 605.1,252.4 605.4,246.9 C605.6,241.4 606.0,237.5 604.8,232.0 C603.6,226.5 600.7,219.6 598.0,214.0 C595.3,208.4 591.5,203.1 588.4,198.5 C585.3,193.9 583.9,191.3 579.4,186.6 C574.9,181.8 565.8,173.5 561.5,170.0 C557.2,166.5 557.7,167.8 553.5,165.6 C549.3,163.4 541.9,159.5 536.1,156.9 C530.3,154.3 524.6,152.2 518.8,150.0 C513.0,147.8 506.6,145.4 501.4,143.9 C496.2,142.4 492.4,141.5 487.5,140.8 C482.6,140.1 477.2,139.9 472.0,139.9Z"/></clipPath>
<path d="M472.0,139.9 C466.8,139.9 462.1,140.0 456.3,140.8 C450.5,141.6 444.1,142.9 437.2,144.7 C430.3,146.5 421.3,149.4 414.7,151.7 C408.1,154.0 403.1,156.0 397.3,158.6 C391.5,161.2 386.2,164.3 380.0,167.3 C373.8,170.3 366.6,170.3 360.3,176.5 C354.0,182.7 346.9,195.9 342.4,204.6 C337.9,213.3 335.1,221.6 333.4,228.5 C331.7,235.4 332.0,240.1 332.0,246.0 C332.0,251.9 332.1,258.3 333.4,264.0 C334.7,269.7 336.9,274.8 340.0,280.0 C343.1,285.2 346.7,290.5 352.0,295.0 C357.3,299.5 360.7,301.3 372.0,307.0 C383.3,312.7 403.5,322.8 420.0,329.0 C436.5,335.2 454.3,343.3 471.0,344.0 C487.7,344.7 506.0,336.8 520.0,333.0 C534.0,329.2 546.1,324.4 555.0,321.0 C563.9,317.6 567.4,315.9 573.4,312.5 C579.4,309.1 587.3,305.1 591.3,300.6 C595.3,296.1 595.3,291.7 597.3,285.7 C599.3,279.7 601.9,271.3 603.3,264.8 C604.6,258.3 605.1,252.4 605.4,246.9 C605.6,241.4 606.0,237.5 604.8,232.0 C603.6,226.5 600.7,219.6 598.0,214.0 C595.3,208.4 591.5,203.1 588.4,198.5 C585.3,193.9 583.9,191.3 579.4,186.6 C574.9,181.8 565.8,173.5 561.5,170.0 C557.2,166.5 557.7,167.8 553.5,165.6 C549.3,163.4 541.9,159.5 536.1,156.9 C530.3,154.3 524.6,152.2 518.8,150.0 C513.0,147.8 506.6,145.4 501.4,143.9 C496.2,142.4 492.4,141.5 487.5,140.8 C482.6,140.1 477.2,139.9 472.0,139.9Z" fill="#d3771f" stroke="#2a1405" stroke-width="1"/>
<g clip-path="url(#cb)" fill="none" stroke="#2a1405" stroke-width="0.75"><path d="M410.1,137.3 C409.0,138.3 405.6,141.3 403.1,143.3 C400.7,145.3 398.0,147.3 395.5,149.3 C393.1,151.3 390.8,153.3 388.3,155.3 C385.7,157.3 382.8,159.3 380.0,161.3 C377.2,163.3 374.3,165.3 371.5,167.3 C368.7,169.3 365.2,171.3 363.0,173.3 C360.8,175.3 359.6,177.3 358.1,179.3 C356.7,181.3 355.8,183.3 354.5,185.3 C353.2,187.3 351.9,189.3 350.5,191.3 C349.2,193.3 347.8,195.3 346.4,197.3 C345.1,199.3 343.5,201.3 342.4,203.3 C341.2,205.3 340.4,207.3 339.5,209.3 C338.7,211.3 338.0,213.3 337.3,215.3 C336.7,217.3 336.0,219.3 335.4,221.3 C334.8,223.3 333.9,225.3 333.6,227.3 C333.2,229.3 333.4,231.3 333.2,233.3 C333.1,235.3 333.0,237.3 332.8,239.3 C332.6,241.3 332.2,243.3 332.1,245.3 C331.9,247.3 332.0,249.3 332.0,251.3 C332.0,253.3 332.0,255.3 332.0,257.3 C332.0,259.3 331.8,261.3 332.2,263.3 C332.6,265.3 333.7,267.3 334.6,269.3 C335.5,271.3 336.5,273.3 337.6,275.3 C338.7,277.3 339.7,279.3 341.2,281.3 C342.7,283.3 344.7,285.3 346.4,287.3 C348.1,289.3 349.2,291.3 351.4,293.3 C353.7,295.3 356.9,297.3 359.9,299.3 C362.9,301.3 365.9,303.3 369.5,305.3 C373.1,307.3 377.2,309.3 381.2,311.3 C385.3,313.3 391.8,316.3 393.9,317.3"/><path d="M410.7,136.8 C409.7,137.8 407.1,140.8 405.0,142.8 C402.8,144.8 400.2,146.8 397.7,148.8 C395.3,150.8 392.9,152.8 390.2,154.8 C387.5,156.8 384.5,158.8 381.5,160.8 C378.6,162.8 375.4,164.8 372.4,166.8 C369.4,168.8 365.9,170.8 363.5,172.8 C361.2,174.8 359.6,176.8 358.2,178.8 C356.9,180.8 356.2,182.8 355.2,184.8 C354.3,186.8 353.5,188.8 352.7,190.8 C351.9,192.8 351.1,194.8 350.2,196.8 C349.3,198.8 348.3,200.8 347.5,202.8 C346.6,204.8 345.9,206.8 345.1,208.8 C344.3,210.8 343.6,212.8 342.8,214.8 C342.0,216.8 341.2,218.8 340.4,220.8 C339.7,222.8 338.7,224.8 338.2,226.8 C337.7,228.8 337.7,230.8 337.6,232.8 C337.6,234.8 337.7,236.8 337.8,238.8 C337.9,240.8 338.0,242.8 338.2,244.8 C338.5,246.8 339.1,248.8 339.5,250.8 C339.9,252.8 340.4,254.8 340.7,256.8 C341.1,258.8 341.1,260.8 341.6,262.8 C342.1,264.8 343.0,266.8 343.7,268.8 C344.4,270.8 345.1,272.8 345.9,274.8 C346.7,276.8 347.3,278.8 348.5,280.8 C349.6,282.8 351.4,284.8 352.9,286.8 C354.5,288.8 355.6,290.8 357.8,292.8 C359.9,294.8 362.9,296.8 365.9,298.8 C369.0,300.8 372.3,302.8 375.9,304.8 C379.5,306.8 383.6,308.8 387.6,310.8 C391.6,312.8 395.9,314.8 400.0,316.8 C404.1,318.8 408.1,320.8 412.0,322.8 C416.0,324.8 421.8,327.8 423.8,328.8"/><path d="M411.5,134.2 C410.8,135.2 409.2,138.2 407.1,140.2 C405.1,142.2 402.0,144.2 399.5,146.2 C397.1,148.2 394.7,150.2 392.4,152.2 C390.0,154.2 387.8,156.2 385.4,158.2 C382.9,160.2 380.1,162.2 377.6,164.2 C375.0,166.2 372.3,168.2 369.9,170.2 C367.4,172.2 364.7,174.2 363.0,176.2 C361.2,178.2 360.6,180.2 359.4,182.2 C358.3,184.2 357.2,186.2 356.1,188.2 C355.1,190.2 354.1,192.2 353.1,194.2 C352.2,196.2 351.2,198.2 350.3,200.2 C349.5,202.2 348.7,204.2 348.1,206.2 C347.6,208.2 347.4,210.2 347.1,212.2 C346.7,214.2 346.5,216.2 346.2,218.2 C346.0,220.2 345.7,222.2 345.5,224.2 C345.3,226.2 345.1,228.2 345.0,230.2 C345.0,232.2 345.2,234.2 345.3,236.2 C345.3,238.2 345.2,240.2 345.2,242.2 C345.3,244.2 345.2,246.2 345.4,248.2 C345.5,250.2 345.8,252.2 346.1,254.2 C346.4,256.2 346.6,258.2 347.1,260.2 C347.7,262.2 348.3,264.2 349.1,266.2 C350.0,268.2 351.3,270.2 352.5,272.2 C353.6,274.2 354.6,276.2 355.9,278.2 C357.2,280.2 358.9,282.2 360.4,284.2 C362.0,286.2 363.5,288.2 365.2,290.2 C366.9,292.2 368.3,294.2 370.6,296.2 C372.9,298.2 376.1,300.2 379.0,302.2 C381.9,304.2 384.5,306.2 387.9,308.2 C391.2,310.2 395.2,312.2 398.9,314.2 C402.6,316.2 408.4,319.2 410.3,320.2"/><path d="M411.4,137.8 C410.2,138.8 406.7,141.8 404.2,143.8 C401.8,145.8 399.3,147.8 396.9,149.8 C394.4,151.8 392.1,153.8 389.6,155.8 C387.0,157.8 384.2,159.8 381.5,161.8 C378.8,163.8 376.0,165.8 373.4,167.8 C370.8,169.8 367.8,171.8 365.8,173.8 C363.9,175.8 362.9,177.8 361.7,179.8 C360.6,181.8 359.9,183.8 359.2,185.8 C358.4,187.8 357.9,189.8 357.3,191.8 C356.7,193.8 356.2,195.8 355.6,197.8 C355.0,199.8 354.3,201.8 353.7,203.8 C353.2,205.8 352.9,207.8 352.5,209.8 C352.1,211.8 351.7,213.8 351.3,215.8 C351.0,217.8 350.6,219.8 350.3,221.8 C349.9,223.8 349.4,225.8 349.3,227.8 C349.3,229.8 349.7,231.8 349.9,233.8 C350.1,235.8 350.5,237.8 350.8,239.8 C351.1,241.8 351.3,243.8 351.8,245.8 C352.2,247.8 352.9,249.8 353.5,251.8 C354.0,253.8 354.6,255.8 355.1,257.8 C355.6,259.8 355.8,261.8 356.5,263.8 C357.2,265.8 358.3,267.8 359.2,269.8 C360.1,271.8 361.0,273.8 362.0,275.8 C363.0,277.8 363.9,279.8 365.3,281.8 C366.6,283.8 368.2,285.8 369.8,287.8 C371.4,289.8 372.5,291.8 374.6,293.8 C376.7,295.8 379.7,297.8 382.4,299.8 C385.2,301.8 387.9,303.8 391.1,305.8 C394.2,307.8 397.9,309.8 401.3,311.8 C404.8,313.8 408.4,315.8 411.9,317.8 C415.4,319.8 418.7,321.8 422.3,323.8 C425.8,325.8 428.9,327.8 433.0,329.8 C437.2,331.8 442.5,333.8 447.3,335.8 C452.1,337.8 459.3,340.8 461.7,341.8"/><path d="M412.9,136.4 C411.8,137.4 408.8,140.4 406.5,142.4 C404.2,144.4 401.6,146.4 399.1,148.4 C396.7,150.4 394.3,152.4 391.8,154.4 C389.4,156.4 386.8,158.4 384.3,160.4 C381.7,162.4 379.1,164.4 376.7,166.4 C374.2,168.4 371.5,170.4 369.5,172.4 C367.6,174.4 366.1,176.4 364.8,178.4 C363.6,180.4 362.9,182.4 362.2,184.4 C361.5,186.4 361.1,188.4 360.6,190.4 C360.1,192.4 359.6,194.4 359.1,196.4 C358.6,198.4 358.1,200.4 357.7,202.4 C357.3,204.4 356.9,206.4 356.6,208.4 C356.3,210.4 356.1,212.4 355.9,214.4 C355.7,216.4 355.5,218.4 355.4,220.4 C355.2,222.4 355.0,224.4 355.0,226.4 C355.1,228.4 355.4,230.4 355.7,232.4 C356.0,234.4 356.5,236.4 356.9,238.4 C357.3,240.4 357.6,242.4 358.1,244.4 C358.6,246.4 359.2,248.4 359.8,250.4 C360.3,252.4 360.9,254.4 361.5,256.4 C362.1,258.4 362.4,260.4 363.1,262.4 C363.8,264.4 364.8,266.4 365.7,268.4 C366.6,270.4 367.6,272.4 368.6,274.4 C369.6,276.4 370.4,278.4 371.7,280.4 C373.0,282.4 374.8,284.4 376.3,286.4 C377.9,288.4 379.2,290.4 381.1,292.4 C383.0,294.4 385.2,296.4 387.7,298.4 C390.1,300.4 394.4,303.4 395.7,304.4"/><path d="M414.1,135.3 C413.1,136.3 410.3,139.3 408.1,141.3 C405.9,143.3 403.2,145.3 400.8,147.3 C398.5,149.3 396.3,151.3 394.0,153.3 C391.8,155.3 389.6,157.3 387.3,159.3 C385.0,161.3 382.6,163.3 380.3,165.3 C378.0,167.3 375.6,169.3 373.6,171.3 C371.6,173.3 369.6,175.3 368.3,177.3 C366.9,179.3 366.0,181.3 365.2,183.3 C364.4,185.3 363.8,187.3 363.3,189.3 C362.8,191.3 362.4,193.3 362.0,195.3 C361.6,197.3 361.2,199.3 361.0,201.3 C360.8,203.3 360.6,205.3 360.6,207.3 C360.5,209.3 360.6,211.3 360.7,213.3 C360.8,215.3 360.9,217.3 360.9,219.3 C361.0,221.3 361.0,223.3 361.1,225.3 C361.2,227.3 361.5,229.3 361.7,231.3 C362.0,233.3 362.4,235.3 362.8,237.3 C363.1,239.3 363.4,241.3 363.8,243.3 C364.2,245.3 364.7,247.3 365.3,249.3 C365.8,251.3 366.5,253.3 367.1,255.3 C367.8,257.3 368.4,259.3 369.2,261.3 C370.1,263.3 371.1,265.3 372.1,267.3 C373.2,269.3 374.4,271.3 375.6,273.3 C376.7,275.3 377.7,277.3 379.0,279.3 C380.3,281.3 381.8,283.3 383.3,285.3 C384.7,287.3 386.0,289.3 387.6,291.3 C389.2,293.3 390.9,295.3 393.0,297.3 C395.0,299.3 397.6,301.3 400.0,303.3 C402.5,305.3 405.1,307.3 407.9,309.3 C410.7,311.3 413.9,313.3 416.9,315.3 C420.0,317.3 423.1,319.3 426.2,321.3 C429.3,323.3 433.9,326.3 435.5,327.3"/><path d="M415.0,135.9 C413.9,136.9 410.7,139.9 408.4,141.9 C406.1,143.9 403.5,145.9 401.2,147.9 C398.8,149.9 396.7,151.9 394.5,153.9 C392.3,155.9 390.1,157.9 388.0,159.9 C385.8,161.9 383.6,163.9 381.5,165.9 C379.4,167.9 377.1,169.9 375.4,171.9 C373.6,173.9 372.0,175.9 370.8,177.9 C369.6,179.9 368.7,181.9 368.0,183.9 C367.3,185.9 366.9,187.9 366.5,189.9 C366.1,191.9 365.7,193.9 365.4,195.9 C365.1,197.9 364.9,199.9 364.7,201.9 C364.6,203.9 364.6,205.9 364.6,207.9 C364.7,209.9 364.9,211.9 365.1,213.9 C365.3,215.9 365.6,217.9 365.8,219.9 C366.0,221.9 366.1,223.9 366.5,225.9 C366.8,227.9 367.2,229.9 367.6,231.9 C368.0,233.9 368.5,235.9 368.9,237.9 C369.4,239.9 369.7,241.9 370.2,243.9 C370.7,245.9 371.2,247.9 371.8,249.9 C372.4,251.9 373.1,253.9 373.8,255.9 C374.5,257.9 375.1,259.9 376.0,261.9 C376.8,263.9 377.9,265.9 379.0,267.9 C380.1,269.9 381.4,271.9 382.5,273.9 C383.7,275.9 384.8,277.9 386.1,279.9 C387.5,281.9 389.1,283.9 390.6,285.9 C392.1,287.9 393.3,289.9 395.0,291.9 C396.6,293.9 398.3,295.9 400.3,297.9 C402.3,299.9 405.8,302.9 406.9,303.9"/><path d="M417.9,134.6 C416.9,135.6 414.2,138.6 412.1,140.6 C409.9,142.6 407.3,144.6 404.9,146.6 C402.6,148.6 400.4,150.6 398.1,152.6 C395.8,154.6 393.7,156.6 391.4,158.6 C389.2,160.6 386.9,162.6 384.7,164.6 C382.6,166.6 380.4,168.6 378.6,170.6 C376.7,172.6 374.9,174.6 373.7,176.6 C372.5,178.6 371.8,180.6 371.2,182.6 C370.6,184.6 370.4,186.6 370.1,188.6 C369.9,190.6 369.9,192.6 369.8,194.6 C369.7,196.6 369.6,198.6 369.6,200.6 C369.6,202.6 369.5,204.6 369.6,206.6 C369.6,208.6 369.8,210.6 369.9,212.6 C370.1,214.6 370.2,216.6 370.4,218.6 C370.5,220.6 370.7,222.6 370.9,224.6 C371.2,226.6 371.6,228.6 372.0,230.6 C372.5,232.6 373.1,234.6 373.7,236.6 C374.3,238.6 375.0,240.6 375.6,242.6 C376.3,244.6 377.0,246.6 377.8,248.6 C378.6,250.6 379.4,252.6 380.2,254.6 C381.0,256.6 381.7,258.6 382.6,260.6 C383.4,262.6 384.2,264.6 385.2,266.6 C386.2,268.6 387.2,270.6 388.3,272.6 C389.3,274.6 390.3,276.6 391.4,278.6 C392.6,280.6 394.0,282.6 395.3,284.6 C396.7,286.6 398.1,288.6 399.6,290.6 C401.2,292.6 402.7,294.6 404.6,296.6 C406.6,298.6 408.9,300.6 411.2,302.6 C413.4,304.6 415.7,306.6 418.1,308.6 C420.5,310.6 423.2,312.6 425.8,314.6 C428.4,316.6 430.9,318.6 433.4,320.6 C436.0,322.6 438.3,324.6 441.0,326.6 C443.8,328.6 446.8,330.6 449.9,332.6 C453.0,334.6 456.4,336.6 459.7,338.6 C463.0,340.6 468.0,343.6 469.7,344.6"/><path d="M417.3,136.9 C416.1,137.9 412.6,140.9 410.3,142.9 C408.0,144.9 405.7,146.9 403.5,148.9 C401.3,150.9 399.3,152.9 397.2,154.9 C395.2,156.9 393.1,158.9 391.2,160.9 C389.2,162.9 387.2,164.9 385.4,166.9 C383.5,168.9 381.6,170.9 380.1,172.9 C378.5,174.9 377.4,176.9 376.4,178.9 C375.4,180.9 374.6,182.9 374.1,184.9 C373.6,186.9 373.6,188.9 373.4,190.9 C373.2,192.9 373.2,194.9 373.1,196.9 C373.1,198.9 373.1,200.9 373.2,202.9 C373.3,204.9 373.5,206.9 373.8,208.9 C374.1,210.9 374.5,212.9 374.8,214.9 C375.2,216.9 375.6,218.9 376.0,220.9 C376.3,222.9 376.7,224.9 377.1,226.9 C377.6,228.9 378.2,230.9 378.7,232.9 C379.3,234.9 379.9,236.9 380.4,238.9 C381.0,240.9 381.5,242.9 382.2,244.9 C382.8,246.9 383.5,248.9 384.2,250.9 C385.0,252.9 385.8,254.9 386.6,256.9 C387.4,258.9 388.1,260.9 389.1,262.9 C390.1,264.9 391.2,266.9 392.4,268.9 C393.5,270.9 394.7,272.9 395.9,274.9 C397.1,276.9 398.2,278.9 399.5,280.9 C400.8,282.9 402.3,284.9 403.7,286.9 C405.0,288.9 406.2,290.9 407.8,292.9 C409.3,294.9 411.1,296.9 412.9,298.9 C414.7,300.9 416.6,302.9 418.6,304.9 C420.7,306.9 424.0,309.9 425.1,310.9"/><path d="M417.7,137.7 C416.6,138.7 412.9,141.7 410.6,143.7 C408.4,145.7 406.2,147.7 404.2,149.7 C402.2,151.7 400.5,153.7 398.6,155.7 C396.8,157.7 395.0,159.7 393.2,161.7 C391.4,163.7 389.7,165.7 388.1,167.7 C386.4,169.7 384.6,171.7 383.2,173.7 C381.8,175.7 380.7,177.7 379.8,179.7 C378.9,181.7 378.1,183.7 377.6,185.7 C377.1,187.7 377.0,189.7 376.9,191.7 C376.7,193.7 376.7,195.7 376.7,197.7 C376.8,199.7 376.9,201.7 377.2,203.7 C377.5,205.7 377.9,207.7 378.4,209.7 C378.9,211.7 379.5,213.7 380.0,215.7 C380.5,217.7 381.1,219.7 381.7,221.7 C382.2,223.7 382.6,225.7 383.1,227.7 C383.7,229.7 384.3,231.7 384.8,233.7 C385.3,235.7 385.8,237.7 386.3,239.7 C386.8,241.7 387.3,243.7 387.8,245.7 C388.4,247.7 389.1,249.7 389.8,251.7 C390.6,253.7 391.4,255.7 392.2,257.7 C393.1,259.7 394.0,261.7 395.1,263.7 C396.2,265.7 397.6,267.7 398.8,269.7 C400.1,271.7 401.4,273.7 402.6,275.7 C403.9,277.7 405.2,279.7 406.5,281.7 C407.8,283.7 409.2,285.7 410.5,287.7 C411.7,289.7 412.8,291.7 414.2,293.7 C415.5,295.7 417.2,297.7 418.8,299.7 C420.4,301.7 422.0,303.7 423.8,305.7 C425.7,307.7 427.7,309.7 429.8,311.7 C432.0,313.7 434.2,315.7 436.5,317.7 C438.7,319.7 442.3,322.7 443.4,323.7"/><path d="M420.9,137.5 C419.8,138.5 416.3,141.5 414.0,143.5 C411.7,145.5 409.5,147.5 407.3,149.5 C405.2,151.5 403.2,153.5 401.2,155.5 C399.2,157.5 397.3,159.5 395.5,161.5 C393.7,163.5 391.9,165.5 390.3,167.5 C388.8,169.5 387.2,171.5 386.0,173.5 C384.8,175.5 384.0,177.5 383.3,179.5 C382.6,181.5 382.1,183.5 381.9,185.5 C381.7,187.5 381.9,189.5 381.9,191.5 C382.0,193.5 382.1,195.5 382.2,197.5 C382.3,199.5 382.3,201.5 382.5,203.5 C382.7,205.5 383.0,207.5 383.3,209.5 C383.6,211.5 383.9,213.5 384.3,215.5 C384.7,217.5 385.2,219.5 385.7,221.5 C386.1,223.5 386.6,225.5 387.3,227.5 C387.9,229.5 388.7,231.5 389.4,233.5 C390.2,235.5 391.0,237.5 391.7,239.5 C392.5,241.5 393.2,243.5 394.0,245.5 C394.8,247.5 395.6,249.5 396.4,251.5 C397.2,253.5 398.0,255.5 398.8,257.5 C399.6,259.5 400.3,261.5 401.2,263.5 C402.0,265.5 403.1,267.5 404.1,269.5 C405.1,271.5 406.1,273.5 407.3,275.5 C408.4,277.5 409.5,279.5 410.8,281.5 C412.0,283.5 414.2,286.5 414.8,287.5"/><path d="M424.2,135.8 C423.1,136.8 419.6,139.8 417.4,141.8 C415.1,143.8 412.8,145.8 410.8,147.8 C408.7,149.8 406.8,151.8 405.0,153.8 C403.2,155.8 401.6,157.8 400.0,159.8 C398.4,161.8 396.9,163.8 395.5,165.8 C394.2,167.8 392.8,169.8 391.6,171.8 C390.5,173.8 389.4,175.8 388.6,177.8 C387.8,179.8 387.0,181.8 386.6,183.8 C386.2,185.8 386.1,187.8 386.0,189.8 C385.9,191.8 385.9,193.8 385.9,195.8 C385.9,197.8 386.0,199.8 386.2,201.8 C386.4,203.8 386.7,205.8 387.1,207.8 C387.5,209.8 388.1,211.8 388.6,213.8 C389.2,215.8 389.9,217.8 390.6,219.8 C391.3,221.8 392.0,223.8 392.7,225.8 C393.4,227.8 394.2,229.8 394.9,231.8 C395.6,233.8 396.4,235.8 397.0,237.8 C397.7,239.8 398.3,241.8 398.9,243.8 C399.5,245.8 400.1,247.8 400.7,249.8 C401.4,251.8 402.0,253.8 402.8,255.8 C403.5,257.8 404.2,259.8 405.1,261.8 C406.1,263.8 407.1,265.8 408.2,267.8 C409.3,269.8 410.5,271.8 411.8,273.8 C413.0,275.8 414.2,277.8 415.6,279.8 C416.9,281.8 418.3,283.8 419.7,285.8 C421.0,287.8 422.3,289.8 423.6,291.8 C424.9,293.8 426.2,295.8 427.6,297.8 C429.0,299.8 430.4,301.8 431.9,303.8 C433.3,305.8 434.8,307.8 436.4,309.8 C438.0,311.8 439.7,313.8 441.4,315.8 C443.2,317.8 445.0,319.8 446.8,321.8 C448.7,323.8 450.6,325.8 452.7,327.8 C454.8,329.8 457.2,331.8 459.6,333.8 C461.9,335.8 465.0,337.8 466.7,339.8 C468.4,341.8 469.2,344.8 469.7,345.8"/><path d="M425.1,137.4 C424.1,138.4 421.1,141.4 419.2,143.4 C417.2,145.4 415.2,147.4 413.3,149.4 C411.4,151.4 409.6,153.4 407.8,155.4 C406.0,157.4 404.1,159.4 402.4,161.4 C400.7,163.4 399.1,165.4 397.6,167.4 C396.1,169.4 394.5,171.4 393.4,173.4 C392.3,175.4 391.4,177.4 390.8,179.4 C390.2,181.4 389.8,183.4 389.8,185.4 C389.7,187.4 390.1,189.4 390.4,191.4 C390.7,193.4 391.1,195.4 391.4,197.4 C391.8,199.4 392.1,201.4 392.5,203.4 C392.9,205.4 393.3,207.4 393.7,209.4 C394.1,211.4 394.4,213.4 394.8,215.4 C395.2,217.4 395.6,219.4 396.0,221.4 C396.4,223.4 396.8,225.4 397.4,227.4 C397.9,229.4 398.6,231.4 399.3,233.4 C400.0,235.4 400.8,237.4 401.6,239.4 C402.4,241.4 403.3,243.4 404.2,245.4 C405.1,247.4 406.1,249.4 407.0,251.4 C407.9,253.4 408.9,255.4 409.8,257.4 C410.7,259.4 411.6,261.4 412.5,263.4 C413.4,265.4 414.4,267.4 415.3,269.4 C416.2,271.4 417.1,273.4 418.0,275.4 C419.0,277.4 419.9,279.4 420.9,281.4 C421.9,283.4 423.1,285.4 424.2,287.4 C425.4,289.4 427.2,292.4 427.8,293.4"/><path d="M429.7,135.4 C428.7,136.4 425.8,139.4 423.8,141.4 C421.8,143.4 419.7,145.4 417.8,147.4 C415.8,149.4 413.9,151.4 412.1,153.4 C410.3,155.4 408.6,157.4 407.0,159.4 C405.4,161.4 403.9,163.4 402.5,165.4 C401.1,167.4 399.9,169.4 398.8,171.4 C397.8,173.4 396.9,175.4 396.3,177.4 C395.7,179.4 395.2,181.4 395.1,183.4 C394.9,185.4 395.2,187.4 395.4,189.4 C395.5,191.4 395.9,193.4 396.1,195.4 C396.4,197.4 396.6,199.4 396.9,201.4 C397.1,203.4 397.4,205.4 397.7,207.4 C398.0,209.4 398.4,211.4 398.8,213.4 C399.2,215.4 399.6,217.4 400.1,219.4 C400.6,221.4 401.2,223.4 401.9,225.4 C402.5,227.4 403.2,229.4 404.0,231.4 C404.8,233.4 405.7,235.4 406.5,237.4 C407.4,239.4 408.2,241.4 409.1,243.4 C409.9,245.4 410.8,247.4 411.6,249.4 C412.4,251.4 413.2,253.4 414.0,255.4 C414.8,257.4 415.5,259.4 416.3,261.4 C417.1,263.4 417.9,265.4 418.7,267.4 C419.6,269.4 420.4,271.4 421.4,273.4 C422.3,275.4 423.2,277.4 424.3,279.4 C425.4,281.4 426.6,283.4 427.8,285.4 C429.0,287.4 430.2,289.4 431.5,291.4 C432.8,293.4 434.2,295.4 435.5,297.4 C436.9,299.4 438.4,301.4 439.9,303.4 C441.3,305.4 442.7,307.4 444.2,309.4 C445.6,311.4 447.0,313.4 448.5,315.4 C449.9,317.4 452.0,320.4 452.7,321.4"/><path d="M430.4,136.5 C429.4,137.5 426.4,140.5 424.6,142.5 C422.7,144.5 420.8,146.5 419.1,148.5 C417.4,150.5 415.9,152.5 414.4,154.5 C412.9,156.5 411.6,158.5 410.3,160.5 C409.0,162.5 407.8,164.5 406.6,166.5 C405.5,168.5 404.4,170.5 403.5,172.5 C402.5,174.5 401.7,176.5 401.1,178.5 C400.5,180.5 399.9,182.5 399.7,184.5 C399.5,186.5 399.7,188.5 399.8,190.5 C399.9,192.5 400.1,194.5 400.3,196.5 C400.6,198.5 400.9,200.5 401.2,202.5 C401.6,204.5 402.1,206.5 402.6,208.5 C403.1,210.5 403.7,212.5 404.3,214.5 C404.9,216.5 405.6,218.5 406.2,220.5 C406.9,222.5 407.5,224.5 408.2,226.5 C408.9,228.5 409.6,230.5 410.3,232.5 C410.9,234.5 411.6,236.5 412.3,238.5 C412.9,240.5 413.6,242.5 414.2,244.5 C414.9,246.5 415.6,248.5 416.3,250.5 C417.0,252.5 417.8,254.5 418.6,256.5 C419.4,258.5 420.2,260.5 421.1,262.5 C422.0,264.5 423.0,266.5 424.0,268.5 C425.0,270.5 426.0,272.5 427.1,274.5 C428.1,276.5 429.2,278.5 430.3,280.5 C431.4,282.5 432.5,284.5 433.6,286.5 C434.7,288.5 435.7,290.5 436.8,292.5 C437.9,294.5 439.6,297.5 440.1,298.5"/><path d="M435.5,134.2 C434.7,135.2 432.2,138.2 430.5,140.2 C428.8,142.2 427.0,144.2 425.3,146.2 C423.6,148.2 421.9,150.2 420.3,152.2 C418.7,154.2 417.2,156.2 415.7,158.2 C414.3,160.2 412.8,162.2 411.5,164.2 C410.3,166.2 409.1,168.2 408.1,170.2 C407.1,172.2 406.2,174.2 405.6,176.2 C405.0,178.2 404.6,180.2 404.4,182.2 C404.3,184.2 404.5,186.2 404.7,188.2 C404.9,190.2 405.4,192.2 405.8,194.2 C406.2,196.2 406.6,198.2 407.0,200.2 C407.3,202.2 407.7,204.2 408.0,206.2 C408.4,208.2 408.8,210.2 409.1,212.2 C409.5,214.2 409.9,216.2 410.3,218.2 C410.7,220.2 411.2,222.2 411.7,224.2 C412.3,226.2 412.9,228.2 413.5,230.2 C414.2,232.2 415.0,234.2 415.8,236.2 C416.6,238.2 417.4,240.2 418.3,242.2 C419.1,244.2 420.0,246.2 420.9,248.2 C421.7,250.2 422.6,252.2 423.4,254.2 C424.3,256.2 425.1,258.2 425.8,260.2 C426.6,262.2 427.3,264.2 428.1,266.2 C428.8,268.2 429.6,270.2 430.4,272.2 C431.1,274.2 431.9,276.2 432.8,278.2 C433.6,280.2 434.5,282.2 435.5,284.2 C436.5,286.2 437.5,288.2 438.6,290.2 C439.7,292.2 440.9,294.2 442.1,296.2 C443.3,298.2 444.7,300.2 445.9,302.2 C447.2,304.2 448.5,306.2 449.8,308.2 C451.1,310.2 452.4,312.2 453.6,314.2 C454.8,316.2 456.0,318.2 457.2,320.2 C458.4,322.2 459.5,324.2 460.7,326.2 C461.8,328.2 463.0,330.2 464.3,332.2 C465.6,334.2 467.4,336.2 468.3,338.2 C469.2,340.2 469.5,343.2 469.7,344.2"/><path d="M438.0,134.6 C437.1,135.6 434.6,138.6 432.9,140.6 C431.2,142.6 429.4,144.6 427.8,146.6 C426.2,148.6 424.6,150.6 423.2,152.6 C421.7,154.6 420.4,156.6 419.1,158.6 C417.9,160.6 416.7,162.6 415.7,164.6 C414.6,166.6 413.7,168.6 412.9,170.6 C412.1,172.6 411.5,174.6 411.0,176.6 C410.5,178.6 410.1,180.6 409.9,182.6 C409.8,184.6 410.0,186.6 410.2,188.6 C410.3,190.6 410.7,192.6 411.0,194.6 C411.2,196.6 411.5,198.6 411.8,200.6 C412.1,202.6 412.4,204.6 412.8,206.6 C413.1,208.6 413.5,210.6 413.9,212.6 C414.4,214.6 414.8,216.6 415.4,218.6 C415.9,220.6 416.5,222.6 417.1,224.6 C417.8,226.6 418.5,228.6 419.2,230.6 C419.9,232.6 420.7,234.6 421.4,236.6 C422.2,238.6 422.9,240.6 423.7,242.6 C424.4,244.6 425.2,246.6 425.9,248.6 C426.6,250.6 427.3,252.6 428.0,254.6 C428.7,256.6 429.4,258.6 430.1,260.6 C430.8,262.6 431.4,264.6 432.2,266.6 C432.9,268.6 433.7,270.6 434.5,272.6 C435.3,274.6 436.7,277.6 437.1,278.6"/><path d="M439.2,135.6 C438.4,136.6 435.9,139.6 434.4,141.6 C432.8,143.6 431.3,145.6 430.0,147.6 C428.6,149.6 427.4,151.6 426.2,153.6 C425.1,155.6 424.0,157.6 423.1,159.6 C422.1,161.6 421.2,163.6 420.4,165.6 C419.5,167.6 418.8,169.6 418.1,171.6 C417.4,173.6 416.7,175.6 416.2,177.6 C415.7,179.6 415.2,181.6 415.0,183.6 C414.9,185.6 415.0,187.6 415.1,189.6 C415.2,191.6 415.4,193.6 415.7,195.6 C415.9,197.6 416.2,199.6 416.6,201.6 C417.0,203.6 417.4,205.6 417.9,207.6 C418.4,209.6 419.0,211.6 419.6,213.6 C420.1,215.6 420.8,217.6 421.4,219.6 C422.0,221.6 422.7,223.6 423.3,225.6 C423.9,227.6 424.5,229.6 425.1,231.6 C425.8,233.6 426.3,235.6 426.9,237.6 C427.5,239.6 428.0,241.6 428.6,243.6 C429.2,245.6 429.7,247.6 430.4,249.6 C431.0,251.6 431.6,253.6 432.3,255.6 C432.9,257.6 433.7,259.6 434.4,261.6 C435.2,263.6 436.0,265.6 436.9,267.6 C437.7,269.6 438.6,271.6 439.5,273.6 C440.4,275.6 441.4,277.6 442.3,279.6 C443.2,281.6 444.1,283.6 445.0,285.6 C445.9,287.6 446.7,289.6 447.6,291.6 C448.5,293.6 449.3,295.6 450.1,297.6 C451.0,299.6 451.8,301.6 452.7,303.6 C453.6,305.6 454.5,307.6 455.4,309.6 C456.4,311.6 457.9,314.6 458.4,315.6"/><path d="M440.6,137.4 C440.0,138.4 437.8,141.4 436.6,143.4 C435.3,145.4 434.1,147.4 432.9,149.4 C431.8,151.4 430.8,153.4 429.9,155.4 C428.9,157.4 428.0,159.4 427.1,161.4 C426.2,163.4 425.4,165.4 424.6,167.4 C423.8,169.4 423.0,171.4 422.3,173.4 C421.7,175.4 421.1,177.4 420.7,179.4 C420.3,181.4 419.9,183.4 419.9,185.4 C419.8,187.4 420.1,189.4 420.4,191.4 C420.6,193.4 420.9,195.4 421.3,197.4 C421.7,199.4 422.1,201.4 422.6,203.4 C423.1,205.4 423.6,207.4 424.1,209.4 C424.6,211.4 425.2,213.4 425.7,215.4 C426.3,217.4 426.8,219.4 427.3,221.4 C427.8,223.4 428.3,225.4 428.8,227.4 C429.3,229.4 429.8,231.4 430.3,233.4 C430.8,235.4 431.3,237.4 431.8,239.4 C432.3,241.4 432.9,243.4 433.5,245.4 C434.1,247.4 434.7,249.4 435.4,251.4 C436.0,253.4 436.8,255.4 437.5,257.4 C438.2,259.4 439.0,261.4 439.8,263.4 C440.6,265.4 441.4,267.4 442.2,269.4 C443.0,271.4 443.8,273.4 444.6,275.4 C445.4,277.4 446.5,280.4 446.9,281.4"/><path d="M444.1,136.0 C443.5,137.0 441.6,140.0 440.4,142.0 C439.3,144.0 438.3,146.0 437.3,148.0 C436.4,150.0 435.6,152.0 434.8,154.0 C434.0,156.0 433.3,158.0 432.6,160.0 C431.8,162.0 431.1,164.0 430.4,166.0 C429.7,168.0 429.0,170.0 428.3,172.0 C427.7,174.0 427.0,176.0 426.5,178.0 C426.0,180.0 425.5,182.0 425.3,184.0 C425.1,186.0 425.2,188.0 425.3,190.0 C425.5,192.0 425.8,194.0 426.1,196.0 C426.4,198.0 426.9,200.0 427.4,202.0 C427.9,204.0 428.5,206.0 429.1,208.0 C429.7,210.0 430.3,212.0 430.9,214.0 C431.5,216.0 432.1,218.0 432.6,220.0 C433.1,222.0 433.6,224.0 434.0,226.0 C434.4,228.0 434.8,230.0 435.2,232.0 C435.6,234.0 435.9,236.0 436.3,238.0 C436.7,240.0 437.0,242.0 437.5,244.0 C438.0,246.0 438.5,248.0 439.0,250.0 C439.6,252.0 440.3,254.0 441.0,256.0 C441.7,258.0 442.6,260.0 443.4,262.0 C444.2,264.0 445.0,266.0 445.9,268.0 C446.7,270.0 447.5,272.0 448.3,274.0 C449.1,276.0 449.8,278.0 450.5,280.0 C451.2,282.0 451.8,284.0 452.4,286.0 C453.0,288.0 453.5,290.0 454.1,292.0 C454.7,294.0 455.2,296.0 455.8,298.0 C456.5,300.0 457.1,302.0 457.8,304.0 C458.6,306.0 459.4,308.0 460.2,310.0 C461.1,312.0 462.1,314.0 463.0,316.0 C464.0,318.0 465.0,320.0 466.1,322.0 C467.1,324.0 468.5,326.0 469.1,328.0 C469.7,330.0 469.6,333.0 469.7,334.0"/><path d="M449.1,134.5 C448.5,135.5 446.7,138.5 445.5,140.5 C444.4,142.5 443.2,144.5 442.1,146.5 C441.1,148.5 440.1,150.5 439.2,152.5 C438.3,154.5 437.5,156.5 436.8,158.5 C436.0,160.5 435.4,162.5 434.8,164.5 C434.2,166.5 433.7,168.5 433.3,170.5 C432.9,172.5 432.5,174.5 432.2,176.5 C431.9,178.5 431.7,180.5 431.6,182.5 C431.6,184.5 431.7,186.5 431.8,188.5 C432.0,190.5 432.2,192.5 432.4,194.5 C432.7,196.5 432.9,198.5 433.2,200.5 C433.4,202.5 433.7,204.5 434.0,206.5 C434.3,208.5 434.7,210.5 435.1,212.5 C435.5,214.5 435.9,216.5 436.4,218.5 C436.9,220.5 437.4,222.5 437.9,224.5 C438.4,226.5 439.0,228.5 439.5,230.5 C440.1,232.5 440.6,234.5 441.2,236.5 C441.7,238.5 442.2,240.5 442.8,242.5 C443.3,244.5 443.8,246.5 444.3,248.5 C444.8,250.5 445.2,252.5 445.7,254.5 C446.2,256.5 446.7,258.5 447.2,260.5 C447.7,262.5 448.3,264.5 448.8,266.5 C449.4,268.5 450.0,270.5 450.7,272.5 C451.3,274.5 452.0,276.5 452.6,278.5 C453.3,280.5 454.1,282.5 454.8,284.5 C455.5,286.5 456.6,289.5 456.9,290.5"/><path d="M450.5,137.6 C450.1,138.6 448.7,141.6 447.8,143.6 C446.9,145.6 446.0,147.6 445.2,149.6 C444.4,151.6 443.6,153.6 442.9,155.6 C442.1,157.6 441.4,159.6 440.7,161.6 C440.1,163.6 439.4,165.6 438.9,167.6 C438.4,169.6 437.9,171.6 437.6,173.6 C437.2,175.6 436.9,177.6 436.8,179.6 C436.7,181.6 436.7,183.6 436.8,185.6 C437.0,187.6 437.4,189.6 437.7,191.6 C438.0,193.6 438.4,195.6 438.7,197.6 C439.1,199.6 439.4,201.6 439.7,203.6 C440.0,205.6 440.3,207.6 440.6,209.6 C440.9,211.6 441.2,213.6 441.5,215.6 C441.8,217.6 442.0,219.6 442.4,221.6 C442.7,223.6 443.0,225.6 443.4,227.6 C443.8,229.6 444.3,231.6 444.7,233.6 C445.2,235.6 445.7,237.6 446.2,239.6 C446.8,241.6 447.4,243.6 447.9,245.6 C448.5,247.6 449.1,249.6 449.7,251.6 C450.2,253.6 450.8,255.6 451.3,257.6 C451.8,259.6 452.3,261.6 452.8,263.6 C453.3,265.6 453.7,267.6 454.2,269.6 C454.7,271.6 455.1,273.6 455.6,275.6 C456.0,277.6 456.5,279.6 457.0,281.6 C457.5,283.6 458.1,285.6 458.6,287.6 C459.2,289.6 459.8,291.6 460.5,293.6 C461.1,295.6 461.8,297.6 462.5,299.6 C463.2,301.6 464.0,303.6 464.7,305.6 C465.4,307.6 466.4,310.6 466.7,311.6"/><path d="M453.7,135.9 C453.3,136.9 452.1,139.9 451.3,141.9 C450.5,143.9 449.8,145.9 449.2,147.9 C448.6,149.9 448.1,151.9 447.7,153.9 C447.2,155.9 446.8,157.9 446.4,159.9 C446.0,161.9 445.6,163.9 445.2,165.9 C444.8,167.9 444.5,169.9 444.1,171.9 C443.8,173.9 443.4,175.9 443.2,177.9 C442.9,179.9 442.6,181.9 442.6,183.9 C442.5,185.9 442.6,187.9 442.8,189.9 C442.9,191.9 443.1,193.9 443.4,195.9 C443.6,197.9 443.9,199.9 444.3,201.9 C444.6,203.9 445.0,205.9 445.4,207.9 C445.8,209.9 446.3,211.9 446.7,213.9 C447.1,215.9 447.5,217.9 447.9,219.9 C448.3,221.9 448.7,223.9 449.1,225.9 C449.4,227.9 449.7,229.9 450.1,231.9 C450.4,233.9 450.7,235.9 451.0,237.9 C451.3,239.9 451.6,241.9 451.9,243.9 C452.3,245.9 452.6,247.9 453.0,249.9 C453.4,251.9 453.9,253.9 454.4,255.9 C454.8,257.9 455.4,259.9 455.9,261.9 C456.5,263.9 457.3,266.9 457.6,267.9"/><path d="M456.8,134.8 C456.5,135.8 455.5,138.8 455.0,140.8 C454.5,142.8 454.0,144.8 453.6,146.8 C453.3,148.8 453.0,150.8 452.7,152.8 C452.4,154.8 452.2,156.8 451.9,158.8 C451.6,160.8 451.3,162.8 451.0,164.8 C450.6,166.8 450.3,168.8 449.9,170.8 C449.5,172.8 449.1,174.8 448.8,176.8 C448.5,178.8 448.1,180.8 448.0,182.8 C447.9,184.8 447.9,186.8 448.0,188.8 C448.1,190.8 448.3,192.8 448.6,194.8 C448.9,196.8 449.3,198.8 449.7,200.8 C450.1,202.8 450.6,204.8 451.1,206.8 C451.5,208.8 452.0,210.8 452.4,212.8 C452.8,214.8 453.2,216.8 453.6,218.8 C453.9,220.8 454.2,222.8 454.4,224.8 C454.6,226.8 454.7,228.8 454.9,230.8 C455.1,232.8 455.2,234.8 455.3,236.8 C455.5,238.8 455.7,240.8 455.9,242.8 C456.2,244.8 456.5,246.8 456.9,248.8 C457.3,250.8 457.8,252.8 458.3,254.8 C458.8,256.8 459.4,258.8 459.9,260.8 C460.5,262.8 461.1,264.8 461.7,266.8 C462.2,268.8 462.8,270.8 463.3,272.8 C463.8,274.8 464.2,276.8 464.6,278.8 C464.9,280.8 465.2,282.8 465.5,284.8 C465.8,286.8 466.0,288.8 466.2,290.8 C466.5,292.8 466.7,294.8 467.0,296.8 C467.3,298.8 467.6,300.8 468.0,302.8 C468.5,304.8 469.4,307.8 469.7,308.8"/><path d="M460.2,138.0 C459.9,139.0 459.1,142.0 458.6,144.0 C458.0,146.0 457.5,148.0 457.0,150.0 C456.6,152.0 456.3,154.0 456.0,156.0 C455.7,158.0 455.4,160.0 455.2,162.0 C455.0,164.0 454.9,166.0 454.8,168.0 C454.7,170.0 454.6,172.0 454.6,174.0 C454.5,176.0 454.5,178.0 454.6,180.0 C454.6,182.0 454.7,184.0 454.8,186.0 C454.9,188.0 455.1,190.0 455.3,192.0 C455.4,194.0 455.6,196.0 455.7,198.0 C455.9,200.0 456.0,202.0 456.1,204.0 C456.3,206.0 456.5,208.0 456.7,210.0 C456.8,212.0 457.1,214.0 457.3,216.0 C457.6,218.0 457.9,220.0 458.2,222.0 C458.5,224.0 458.8,226.0 459.2,228.0 C459.5,230.0 459.9,232.0 460.3,234.0 C460.6,236.0 461.0,238.0 461.3,240.0 C461.7,242.0 462.0,244.0 462.3,246.0 C462.6,248.0 462.8,250.0 463.1,252.0 C463.3,254.0 463.6,256.0 463.8,258.0 C464.1,260.0 464.3,262.0 464.6,264.0 C464.8,266.0 465.1,268.0 465.4,270.0 C465.7,272.0 466.1,274.0 466.4,276.0 C466.8,278.0 467.4,281.0 467.6,282.0"/><path d="M464.1,135.2 C463.9,136.2 463.3,139.2 463.0,141.2 C462.6,143.2 462.2,145.2 461.9,147.2 C461.5,149.2 461.2,151.2 461.0,153.2 C460.8,155.2 460.6,157.2 460.5,159.2 C460.3,161.2 460.2,163.2 460.1,165.2 C460.1,167.2 460.1,169.2 460.1,171.2 C460.1,173.2 460.1,175.2 460.2,177.2 C460.3,179.2 460.4,181.2 460.5,183.2 C460.6,185.2 460.8,187.2 460.9,189.2 C461.1,191.2 461.2,193.2 461.4,195.2 C461.5,197.2 461.6,199.2 461.7,201.2 C461.9,203.2 462.0,205.2 462.1,207.2 C462.2,209.2 462.4,211.2 462.5,213.2 C462.7,215.2 462.9,217.2 463.1,219.2 C463.4,221.2 463.6,223.2 463.9,225.2 C464.2,227.2 464.5,229.2 464.8,231.2 C465.1,233.2 465.4,235.2 465.7,237.2 C466.0,239.2 466.3,241.2 466.5,243.2 C466.8,245.2 467.0,247.2 467.3,249.2 C467.5,251.2 467.7,253.2 467.9,255.2 C468.1,257.2 468.2,259.2 468.4,261.2 C468.6,263.2 468.8,265.2 469.0,267.2 C469.2,269.2 469.6,272.2 469.7,273.2"/><path d="M465.9,136.9 C465.8,137.9 465.5,140.9 465.4,142.9 C465.4,144.9 465.3,146.9 465.4,148.9 C465.5,150.9 465.7,152.9 465.9,154.9 C466.0,156.9 466.2,158.9 466.3,160.9 C466.5,162.9 466.6,164.9 466.6,166.9 C466.6,168.9 466.6,170.9 466.5,172.9 C466.5,174.9 466.3,176.9 466.2,178.9 C466.1,180.9 465.9,182.9 465.9,184.9 C465.8,186.9 465.8,188.9 465.8,190.9 C465.9,192.9 466.0,194.9 466.2,196.9 C466.4,198.9 466.6,200.9 466.9,202.9 C467.2,204.9 467.6,206.9 467.9,208.9 C468.3,210.9 468.7,212.9 469.0,214.9 C469.3,216.9 469.6,218.9 469.8,220.9 C470.1,222.9 470.4,224.9 470.4,226.9 C470.3,228.9 469.8,231.9 469.7,232.9"/><path d="M473.5,134.1 C473.6,135.1 473.9,138.1 474.0,140.1 C474.2,142.1 474.3,144.1 474.3,146.1 C474.4,148.1 474.4,150.1 474.3,152.1 C474.3,154.1 474.1,156.1 474.0,158.1 C474.0,160.1 473.9,162.1 473.8,164.1 C473.8,166.1 473.8,168.1 473.8,170.1 C473.8,172.1 473.8,174.1 473.9,176.1 C473.9,178.1 474.0,180.1 474.0,182.1 C474.0,184.1 474.0,186.1 474.0,188.1 C473.9,190.1 473.8,192.1 473.7,194.1 C473.5,196.1 473.3,198.1 473.1,200.1 C472.9,202.1 472.6,204.1 472.4,206.1 C472.1,208.1 471.8,210.1 471.6,212.1 C471.3,214.1 471.0,216.1 470.8,218.1 C470.6,220.1 470.3,222.1 470.2,224.1 C470.1,226.1 470.3,229.1 470.3,230.1"/><path d="M476.7,134.6 C476.8,135.6 477.0,138.6 477.2,140.6 C477.4,142.6 477.5,144.6 477.6,146.6 C477.7,148.6 477.9,150.6 478.0,152.6 C478.1,154.6 478.3,156.6 478.4,158.6 C478.6,160.6 478.9,162.6 479.1,164.6 C479.3,166.6 479.6,168.6 479.8,170.6 C480.0,172.6 480.3,174.6 480.4,176.6 C480.5,178.6 480.6,180.6 480.6,182.6 C480.5,184.6 480.4,186.6 480.1,188.6 C479.9,190.6 479.6,192.6 479.2,194.6 C478.9,196.6 478.5,198.6 478.2,200.6 C477.8,202.6 477.5,204.6 477.2,206.6 C476.9,208.6 476.6,210.6 476.4,212.6 C476.2,214.6 476.1,216.6 476.0,218.6 C475.9,220.6 475.9,222.6 475.8,224.6 C475.8,226.6 475.7,228.6 475.6,230.6 C475.6,232.6 475.5,234.6 475.3,236.6 C475.1,238.6 474.9,240.6 474.6,242.6 C474.3,244.6 474.0,246.6 473.6,248.6 C473.2,250.6 472.8,252.6 472.4,254.6 C471.9,256.6 471.5,258.6 471.1,260.6 C470.7,262.6 470.2,264.6 470.1,266.6 C469.9,268.6 470.3,271.6 470.3,272.6"/><path d="M479.3,136.1 C479.5,137.1 480.1,140.1 480.5,142.1 C481.0,144.1 481.4,146.1 481.9,148.1 C482.3,150.1 482.7,152.1 483.1,154.1 C483.5,156.1 483.9,158.1 484.3,160.1 C484.6,162.1 485.0,164.1 485.2,166.1 C485.5,168.1 485.7,170.1 485.9,172.1 C486.0,174.1 486.1,176.1 486.1,178.1 C486.1,180.1 486.0,182.1 485.8,184.1 C485.7,186.1 485.3,188.1 485.0,190.1 C484.8,192.1 484.4,194.1 484.2,196.1 C483.9,198.1 483.6,200.1 483.4,202.1 C483.2,204.1 483.0,206.1 482.9,208.1 C482.7,210.1 482.6,212.1 482.5,214.1 C482.3,216.1 482.2,218.1 482.1,220.1 C481.9,222.1 481.7,224.1 481.5,226.1 C481.3,228.1 481.0,230.1 480.7,232.1 C480.4,234.1 480.0,236.1 479.6,238.1 C479.2,240.1 478.8,242.1 478.4,244.1 C478.0,246.1 477.5,248.1 477.1,250.1 C476.7,252.1 476.3,254.1 476.0,256.1 C475.6,258.1 475.3,260.1 475.0,262.1 C474.8,264.1 474.5,266.1 474.3,268.1 C474.1,270.1 473.9,272.1 473.7,274.1 C473.5,276.1 473.1,279.1 473.0,280.1"/><path d="M482.8,137.6 C483.1,138.6 483.9,141.6 484.5,143.6 C485.2,145.6 485.9,147.6 486.5,149.6 C487.1,151.6 487.6,153.6 488.1,155.6 C488.7,157.6 489.2,159.6 489.7,161.6 C490.1,163.6 490.6,165.6 490.9,167.6 C491.2,169.6 491.5,171.6 491.6,173.6 C491.8,175.6 491.8,177.6 491.8,179.6 C491.8,181.6 491.6,183.6 491.4,185.6 C491.2,187.6 490.8,189.6 490.5,191.6 C490.2,193.6 489.9,195.6 489.6,197.6 C489.3,199.6 489.1,201.6 488.9,203.6 C488.7,205.6 488.5,207.6 488.4,209.6 C488.2,211.6 488.1,213.6 487.9,215.6 C487.8,217.6 487.6,219.6 487.4,221.6 C487.1,223.6 486.9,225.6 486.6,227.6 C486.2,229.6 485.8,231.6 485.4,233.6 C485.0,235.6 484.5,237.6 484.0,239.6 C483.6,241.6 483.0,243.6 482.5,245.6 C482.1,247.6 481.6,249.6 481.1,251.6 C480.7,253.6 480.3,255.6 479.9,257.6 C479.5,259.6 479.2,261.6 478.9,263.6 C478.6,265.6 478.4,267.6 478.1,269.6 C477.9,271.6 477.6,273.6 477.3,275.6 C477.0,277.6 476.7,279.6 476.3,281.6 C475.9,283.6 475.5,285.6 475.0,287.6 C474.6,289.6 474.0,291.6 473.5,293.6 C472.9,295.6 472.3,297.6 471.8,299.6 C471.2,301.6 470.3,303.6 470.0,305.6 C469.8,307.6 470.3,310.6 470.3,311.6"/><path d="M485.0,134.6 C485.3,135.6 486.4,138.6 487.1,140.6 C487.8,142.6 488.5,144.6 489.3,146.6 C490.0,148.6 490.8,150.6 491.5,152.6 C492.2,154.6 492.9,156.6 493.5,158.6 C494.2,160.6 494.8,162.6 495.4,164.6 C495.9,166.6 496.4,168.6 496.8,170.6 C497.1,172.6 497.4,174.6 497.6,176.6 C497.7,178.6 497.8,180.6 497.7,182.6 C497.6,184.6 497.2,186.6 496.9,188.6 C496.6,190.6 496.2,192.6 495.8,194.6 C495.5,196.6 495.1,198.6 494.8,200.6 C494.5,202.6 494.2,204.6 494.0,206.6 C493.8,208.6 493.6,210.6 493.4,212.6 C493.2,214.6 493.1,216.6 492.9,218.6 C492.7,220.6 492.5,222.6 492.2,224.6 C492.0,226.6 491.6,228.6 491.3,230.6 C490.9,232.6 490.4,234.6 489.9,236.6 C489.4,238.6 488.8,240.6 488.2,242.6 C487.7,244.6 487.0,246.6 486.5,248.6 C485.9,250.6 485.3,252.6 484.8,254.6 C484.3,256.6 483.8,258.6 483.4,260.6 C483.0,262.6 482.7,264.6 482.3,266.6 C482.0,268.6 481.5,271.6 481.4,272.6"/><path d="M489.2,136.8 C489.6,137.8 491.0,140.8 491.9,142.8 C492.8,144.8 493.8,146.8 494.6,148.8 C495.5,150.8 496.2,152.8 497.0,154.8 C497.7,156.8 498.4,158.8 499.1,160.8 C499.7,162.8 500.3,164.8 500.8,166.8 C501.4,168.8 501.8,170.8 502.2,172.8 C502.5,174.8 502.8,176.8 503.0,178.8 C503.1,180.8 503.2,182.8 503.1,184.8 C503.0,186.8 502.6,188.8 502.3,190.8 C502.1,192.8 501.7,194.8 501.4,196.8 C501.1,198.8 500.8,200.8 500.5,202.8 C500.2,204.8 499.9,206.8 499.6,208.8 C499.3,210.8 499.0,212.8 498.7,214.8 C498.4,216.8 498.1,218.8 497.8,220.8 C497.4,222.8 497.1,224.8 496.7,226.8 C496.3,228.8 495.8,230.8 495.3,232.8 C494.9,234.8 494.4,236.8 493.8,238.8 C493.3,240.8 492.8,242.8 492.2,244.8 C491.7,246.8 491.1,248.8 490.5,250.8 C490.0,252.8 489.5,254.8 489.0,256.8 C488.4,258.8 487.9,260.8 487.5,262.8 C487.0,264.8 486.5,266.8 486.1,268.8 C485.6,270.8 485.1,272.8 484.7,274.8 C484.2,276.8 483.7,278.8 483.2,280.8 C482.6,282.8 482.1,284.8 481.5,286.8 C480.9,288.8 480.3,290.8 479.7,292.8 C479.0,294.8 478.4,296.8 477.7,298.8 C477.0,300.8 476.3,302.8 475.6,304.8 C475.0,306.8 474.0,309.8 473.6,310.8"/><path d="M491.0,134.3 C491.7,135.3 493.6,138.3 494.8,140.3 C496.0,142.3 497.2,144.3 498.3,146.3 C499.3,148.3 500.3,150.3 501.1,152.3 C501.9,154.3 502.6,156.3 503.2,158.3 C503.8,160.3 504.4,162.3 504.9,164.3 C505.3,166.3 505.8,168.3 506.2,170.3 C506.6,172.3 506.9,174.3 507.3,176.3 C507.6,178.3 507.9,180.3 508.1,182.3 C508.3,184.3 508.3,186.3 508.2,188.3 C508.2,190.3 508.0,192.3 507.9,194.3 C507.7,196.3 507.5,198.3 507.3,200.3 C507.0,202.3 506.7,204.3 506.3,206.3 C506.0,208.3 505.5,210.3 505.0,212.3 C504.5,214.3 504.0,216.3 503.4,218.3 C502.9,220.3 502.3,222.3 501.7,224.3 C501.2,226.3 500.6,228.3 500.1,230.3 C499.5,232.3 499.0,234.3 498.5,236.3 C498.1,238.3 497.6,240.3 497.2,242.3 C496.8,244.3 496.4,246.3 496.0,248.3 C495.6,250.3 495.2,252.3 494.7,254.3 C494.2,256.3 493.7,258.3 493.2,260.3 C492.6,262.3 492.0,264.3 491.4,266.3 C490.8,268.3 490.0,270.3 489.3,272.3 C488.6,274.3 487.8,276.3 487.1,278.3 C486.3,280.3 485.6,282.3 484.8,284.3 C484.1,286.3 483.1,289.3 482.8,290.3"/><path d="M494.1,135.1 C494.7,136.1 496.5,139.1 497.7,141.1 C498.9,143.1 500.1,145.1 501.3,147.1 C502.4,149.1 503.6,151.1 504.7,153.1 C505.8,155.1 506.8,157.1 507.8,159.1 C508.8,161.1 509.7,163.1 510.5,165.1 C511.3,167.1 512.0,169.1 512.6,171.1 C513.2,173.1 513.6,175.1 513.9,177.1 C514.3,179.1 514.5,181.1 514.4,183.1 C514.4,185.1 514.0,187.1 513.7,189.1 C513.4,191.1 513.0,193.1 512.6,195.1 C512.2,197.1 511.8,199.1 511.5,201.1 C511.1,203.1 510.8,205.1 510.5,207.1 C510.2,209.1 510.0,211.1 509.7,213.1 C509.4,215.1 509.1,217.1 508.7,219.1 C508.4,221.1 508.0,223.1 507.6,225.1 C507.1,227.1 506.6,229.1 506.1,231.1 C505.5,233.1 504.9,235.1 504.2,237.1 C503.5,239.1 502.8,241.1 502.1,243.1 C501.4,245.1 500.6,247.1 499.9,249.1 C499.2,251.1 498.5,253.1 497.9,255.1 C497.2,257.1 496.6,259.1 496.0,261.1 C495.4,263.1 494.9,265.1 494.4,267.1 C493.9,269.1 493.4,271.1 492.8,273.1 C492.3,275.1 491.7,277.1 491.1,279.1 C490.5,281.1 489.9,283.1 489.2,285.1 C488.5,287.1 487.7,289.1 486.9,291.1 C486.1,293.1 485.2,295.1 484.3,297.1 C483.4,299.1 482.5,301.1 481.6,303.1 C480.7,305.1 479.8,307.1 478.9,309.1 C478.1,311.1 477.2,313.1 476.4,315.1 C475.6,317.1 474.9,319.1 474.1,321.1 C473.4,323.1 472.6,325.1 472.0,327.1 C471.3,329.1 470.6,332.1 470.3,333.1"/><path d="M499.2,136.8 C499.9,137.8 502.1,140.8 503.4,142.8 C504.7,144.8 505.9,146.8 507.0,148.8 C508.1,150.8 509.0,152.8 509.9,154.8 C510.8,156.8 511.6,158.8 512.5,160.8 C513.3,162.8 514.1,164.8 514.8,166.8 C515.6,168.8 516.3,170.8 517.0,172.8 C517.7,174.8 518.4,176.8 518.9,178.8 C519.4,180.8 519.9,182.8 520.0,184.8 C520.2,186.8 520.0,188.8 519.8,190.8 C519.6,192.8 519.3,194.8 518.9,196.8 C518.6,198.8 518.1,200.8 517.6,202.8 C517.1,204.8 516.5,206.8 516.0,208.8 C515.4,210.8 514.8,212.8 514.2,214.8 C513.6,216.8 513.1,218.8 512.5,220.8 C512.0,222.8 511.5,224.8 511.0,226.8 C510.5,228.8 510.1,230.8 509.6,232.8 C509.2,234.8 508.8,236.8 508.3,238.8 C507.8,240.8 507.3,242.8 506.8,244.8 C506.3,246.8 505.7,248.8 505.0,250.8 C504.4,252.8 503.6,254.8 502.9,256.8 C502.1,258.8 501.3,260.8 500.5,262.8 C499.6,264.8 498.7,266.8 497.9,268.8 C497.1,270.8 496.2,272.8 495.4,274.8 C494.6,276.8 493.5,279.8 493.1,280.8"/><path d="M500.2,134.8 C500.9,135.8 503.0,138.8 504.4,140.8 C505.7,142.8 507.1,144.8 508.5,146.8 C509.8,148.8 511.1,150.8 512.3,152.8 C513.5,154.8 514.7,156.8 515.9,158.8 C517.0,160.8 518.2,162.8 519.2,164.8 C520.2,166.8 521.3,168.8 522.1,170.8 C523.0,172.8 523.8,174.8 524.4,176.8 C524.9,178.8 525.4,180.8 525.6,182.8 C525.7,184.8 525.5,186.8 525.2,188.8 C524.9,190.8 524.4,192.8 523.9,194.8 C523.5,196.8 522.9,198.8 522.4,200.8 C522.0,202.8 521.4,204.8 521.0,206.8 C520.5,208.8 520.1,210.8 519.7,212.8 C519.3,214.8 518.9,216.8 518.5,218.8 C518.2,220.8 517.8,222.8 517.4,224.8 C517.0,226.8 516.6,228.8 516.1,230.8 C515.6,232.8 515.0,234.8 514.4,236.8 C513.7,238.8 513.0,240.8 512.3,242.8 C511.5,244.8 510.7,246.8 509.8,248.8 C509.0,250.8 508.1,252.8 507.2,254.8 C506.4,256.8 505.5,258.8 504.7,260.8 C503.9,262.8 503.1,264.8 502.4,266.8 C501.6,268.8 500.9,270.8 500.3,272.8 C499.6,274.8 499.0,276.8 498.3,278.8 C497.7,280.8 497.0,282.8 496.3,284.8 C495.6,286.8 494.9,288.8 494.0,290.8 C493.2,292.8 492.4,294.8 491.4,296.8 C490.5,298.8 489.4,300.8 488.4,302.8 C487.3,304.8 486.1,306.8 485.0,308.8 C483.9,310.8 482.1,313.8 481.6,314.8"/><path d="M503.6,135.6 C504.5,136.6 507.1,139.6 508.7,141.6 C510.4,143.6 512.0,145.6 513.5,147.6 C515.0,149.6 516.3,151.6 517.6,153.6 C518.8,155.6 519.9,157.6 520.9,159.6 C522.0,161.6 523.0,163.6 523.9,165.6 C524.8,167.6 525.6,169.6 526.4,171.6 C527.2,173.6 528.0,175.6 528.6,177.6 C529.2,179.6 529.8,181.6 530.0,183.6 C530.3,185.6 530.1,187.6 530.0,189.6 C529.9,191.6 529.7,193.6 529.4,195.6 C529.1,197.6 528.7,199.6 528.3,201.6 C527.9,203.6 527.4,205.6 526.9,207.6 C526.4,209.6 525.9,211.6 525.3,213.6 C524.7,215.6 524.1,217.6 523.5,219.6 C522.9,221.6 522.3,223.6 521.7,225.6 C521.1,227.6 520.5,229.6 519.9,231.6 C519.3,233.6 518.7,235.6 518.1,237.6 C517.5,239.6 516.9,241.6 516.3,243.6 C515.6,245.6 515.0,247.6 514.3,249.6 C513.6,251.6 512.9,253.6 512.1,255.6 C511.4,257.6 510.6,259.6 509.7,261.6 C508.9,263.6 508.0,265.6 507.1,267.6 C506.3,269.6 504.9,272.6 504.4,273.6"/><path d="M506.6,137.2 C507.6,138.2 510.4,141.2 512.3,143.2 C514.2,145.2 516.1,147.2 517.9,149.2 C519.6,151.2 521.2,153.2 522.7,155.2 C524.2,157.2 525.6,159.2 526.8,161.2 C528.0,163.2 529.1,165.2 530.0,167.2 C531.0,169.2 531.8,171.2 532.4,173.2 C533.1,175.2 533.7,177.2 534.0,179.2 C534.4,181.2 534.7,183.2 534.7,185.2 C534.6,187.2 534.2,189.2 534.0,191.2 C533.7,193.2 533.4,195.2 533.2,197.2 C532.9,199.2 532.7,201.2 532.4,203.2 C532.2,205.2 532.0,207.2 531.6,209.2 C531.3,211.2 531.0,213.2 530.6,215.2 C530.2,217.2 529.7,219.2 529.2,221.2 C528.6,223.2 527.9,225.2 527.2,227.2 C526.5,229.2 525.7,231.2 524.9,233.2 C524.1,235.2 523.2,237.2 522.3,239.2 C521.5,241.2 520.6,243.2 519.8,245.2 C518.9,247.2 518.1,249.2 517.4,251.2 C516.6,253.2 515.9,255.2 515.3,257.2 C514.6,259.2 514.0,261.2 513.3,263.2 C512.6,265.2 511.9,267.2 511.2,269.2 C510.5,271.2 509.7,273.2 508.9,275.2 C508.0,277.2 507.1,279.2 506.1,281.2 C505.1,283.2 504.1,285.2 503.0,287.2 C501.9,289.2 500.7,291.2 499.5,293.2 C498.4,295.2 497.3,297.2 496.1,299.2 C494.9,301.2 493.7,303.2 492.5,305.2 C491.4,307.2 490.3,309.2 489.2,311.2 C488.1,313.2 487.0,315.2 485.9,317.2 C484.8,319.2 483.7,321.2 482.5,323.2 C481.3,325.2 480.1,327.2 478.8,329.2 C477.5,331.2 476.0,333.2 474.6,335.2 C473.2,337.2 471.0,340.2 470.3,341.2"/><path d="M510.1,137.5 C511.1,138.5 514.2,141.5 516.2,143.5 C518.1,145.5 520.1,147.5 521.8,149.5 C523.5,151.5 525.0,153.5 526.4,155.5 C527.9,157.5 529.1,159.5 530.3,161.5 C531.5,163.5 532.6,165.5 533.6,167.5 C534.6,169.5 535.5,171.5 536.3,173.5 C537.1,175.5 537.9,177.5 538.5,179.5 C539.0,181.5 539.5,183.5 539.7,185.5 C539.8,187.5 539.5,189.5 539.4,191.5 C539.2,193.5 539.1,195.5 538.8,197.5 C538.6,199.5 538.2,201.5 537.9,203.5 C537.6,205.5 537.2,207.5 536.7,209.5 C536.3,211.5 535.8,213.5 535.3,215.5 C534.7,217.5 534.1,219.5 533.5,221.5 C532.9,223.5 532.2,225.5 531.5,227.5 C530.9,229.5 530.2,231.5 529.4,233.5 C528.7,235.5 527.9,237.5 527.2,239.5 C526.5,241.5 525.8,243.5 525.0,245.5 C524.3,247.5 523.5,249.5 522.8,251.5 C522.0,253.5 521.3,255.5 520.5,257.5 C519.7,259.5 519.0,261.5 518.1,263.5 C517.3,265.5 516.4,267.5 515.5,269.5 C514.6,271.5 513.6,273.5 512.6,275.5 C511.6,277.5 510.6,279.5 509.6,281.5 C508.6,283.5 507.5,285.5 506.5,287.5 C505.4,289.5 504.3,291.5 503.3,293.5 C502.2,295.5 500.7,298.5 500.1,299.5"/><path d="M512.5,137.6 C513.6,138.6 517.1,141.6 519.2,143.6 C521.4,145.6 523.6,147.6 525.5,149.6 C527.4,151.6 529.1,153.6 530.6,155.6 C532.1,157.6 533.4,159.6 534.6,161.6 C535.8,163.6 536.9,165.6 537.8,167.6 C538.8,169.6 539.6,171.6 540.4,173.6 C541.2,175.6 541.9,177.6 542.5,179.6 C543.0,181.6 543.5,183.6 543.7,185.6 C543.9,187.6 543.7,189.6 543.7,191.6 C543.6,193.6 543.6,195.6 543.5,197.6 C543.4,199.6 543.2,201.6 543.0,203.6 C542.7,205.6 542.5,207.6 542.1,209.6 C541.7,211.6 541.3,213.6 540.7,215.6 C540.2,217.6 539.5,219.6 538.8,221.6 C538.1,223.6 537.3,225.6 536.5,227.6 C535.8,229.6 534.9,231.6 534.1,233.6 C533.3,235.6 532.4,237.6 531.7,239.6 C530.9,241.6 530.2,243.6 529.5,245.6 C528.7,247.6 528.1,249.6 527.4,251.6 C526.7,253.6 526.1,255.6 525.4,257.6 C524.7,259.6 524.0,261.6 523.2,263.6 C522.4,265.6 521.5,267.6 520.6,269.6 C519.7,271.6 518.6,273.6 517.6,275.6 C516.5,277.6 515.3,279.6 514.2,281.6 C513.0,283.6 511.8,285.6 510.6,287.6 C509.4,289.6 508.1,291.6 507.0,293.6 C505.8,295.6 504.8,297.6 503.6,299.6 C502.5,301.6 501.2,303.6 500.0,305.6 C498.7,307.6 497.6,309.6 496.4,311.6 C495.1,313.6 493.8,315.6 492.4,317.6 C491.0,319.6 488.7,322.6 488.0,323.6"/><path d="M512.5,135.1 C513.5,136.1 516.3,139.1 518.4,141.1 C520.4,143.1 522.6,145.1 524.7,147.1 C526.7,149.1 528.7,151.1 530.5,153.1 C532.4,155.1 534.0,157.1 535.6,159.1 C537.2,161.1 538.7,163.1 540.1,165.1 C541.5,167.1 542.8,169.1 543.9,171.1 C545.0,173.1 546.1,175.1 546.9,177.1 C547.7,179.1 548.5,181.1 548.8,183.1 C549.1,185.1 548.9,187.1 548.7,189.1 C548.6,191.1 548.2,193.1 547.9,195.1 C547.6,197.1 547.3,199.1 547.0,201.1 C546.6,203.1 546.3,205.1 546.0,207.1 C545.8,209.1 545.5,211.1 545.2,213.1 C544.9,215.1 544.6,217.1 544.3,219.1 C543.9,221.1 543.5,223.1 543.0,225.1 C542.5,227.1 542.0,229.1 541.4,231.1 C540.7,233.1 539.9,235.1 539.0,237.1 C538.2,239.1 537.3,241.1 536.3,243.1 C535.4,245.1 534.4,247.1 533.5,249.1 C532.5,251.1 531.5,253.1 530.6,255.1 C529.7,257.1 528.8,259.1 527.9,261.1 C527.1,263.1 526.3,265.1 525.5,267.1 C524.7,269.1 523.9,271.1 523.1,273.1 C522.2,275.1 521.4,277.1 520.5,279.1 C519.6,281.1 518.7,283.1 517.7,285.1 C516.7,287.1 515.5,289.1 514.4,291.1 C513.2,293.1 511.3,296.1 510.6,297.1"/><path d="M515.3,135.5 C516.3,136.5 519.4,139.5 521.5,141.5 C523.6,143.5 526.0,145.5 528.1,147.5 C530.2,149.5 532.2,151.5 534.0,153.5 C535.8,155.5 537.4,157.5 539.0,159.5 C540.6,161.5 542.1,163.5 543.5,165.5 C544.9,167.5 546.2,169.5 547.4,171.5 C548.5,173.5 549.7,175.5 550.6,177.5 C551.5,179.5 552.4,181.5 552.8,183.5 C553.2,185.5 553.1,187.5 553.1,189.5 C553.0,191.5 552.7,193.5 552.5,195.5 C552.3,197.5 552.0,199.5 551.7,201.5 C551.5,203.5 551.1,205.5 550.9,207.5 C550.6,209.5 550.3,211.5 550.0,213.5 C549.7,215.5 549.3,217.5 548.9,219.5 C548.5,221.5 548.1,223.5 547.7,225.5 C547.2,227.5 546.7,229.5 546.1,231.5 C545.5,233.5 544.7,235.5 543.9,237.5 C543.1,239.5 542.2,241.5 541.4,243.5 C540.5,245.5 539.6,247.5 538.7,249.5 C537.7,251.5 536.8,253.5 535.8,255.5 C534.9,257.5 534.0,259.5 533.2,261.5 C532.3,263.5 531.4,265.5 530.5,267.5 C529.6,269.5 528.8,271.5 527.9,273.5 C527.0,275.5 526.1,277.5 525.1,279.5 C524.2,281.5 523.2,283.5 522.2,285.5 C521.1,287.5 520.0,289.5 518.8,291.5 C517.6,293.5 516.5,295.5 515.1,297.5 C513.8,299.5 512.3,301.5 510.7,303.5 C509.1,305.5 507.4,307.5 505.7,309.5 C504.1,311.5 502.3,313.5 500.5,315.5 C498.8,317.5 497.1,319.5 495.2,321.5 C493.3,323.5 491.2,325.5 489.2,327.5 C487.1,329.5 485.3,331.5 483.1,333.5 C480.8,335.5 477.7,337.5 475.6,339.5 C473.5,341.5 471.2,344.5 470.3,345.5"/><path d="M518.7,136.4 C519.8,137.4 523.0,140.4 525.2,142.4 C527.3,144.4 529.7,146.4 531.8,148.4 C533.8,150.4 535.6,152.4 537.3,154.4 C539.1,156.4 540.6,158.4 542.2,160.4 C543.7,162.4 545.2,164.4 546.7,166.4 C548.1,168.4 549.5,170.4 550.8,172.4 C552.2,174.4 553.5,176.4 554.6,178.4 C555.6,180.4 556.6,182.4 557.1,184.4 C557.6,186.4 557.5,188.4 557.5,190.4 C557.6,192.4 557.4,194.4 557.2,196.4 C556.9,198.4 556.6,200.4 556.3,202.4 C555.9,204.4 555.5,206.4 555.2,208.4 C554.9,210.4 554.6,212.4 554.2,214.4 C553.9,216.4 553.5,218.4 553.1,220.4 C552.8,222.4 552.4,224.4 552.1,226.4 C551.7,228.4 551.4,230.4 550.9,232.4 C550.3,234.4 549.7,236.4 549.0,238.4 C548.3,240.4 547.6,242.4 546.8,244.4 C545.9,246.4 545.0,248.4 544.1,250.4 C543.1,252.4 542.1,254.4 541.1,256.4 C540.1,258.4 539.1,260.4 538.1,262.4 C537.1,264.4 536.1,266.4 535.1,268.4 C534.1,270.4 533.2,272.4 532.2,274.4 C531.3,276.4 530.4,278.4 529.5,280.4 C528.5,282.4 527.7,284.4 526.7,286.4 C525.7,288.4 524.1,291.4 523.5,292.4"/><path d="M519.6,135.8 C520.8,136.8 524.2,139.8 526.7,141.8 C529.1,143.8 531.9,145.8 534.2,147.8 C536.5,149.8 538.6,151.8 540.4,153.8 C542.2,155.8 543.7,157.8 545.2,159.8 C546.7,161.8 548.0,163.8 549.3,165.8 C550.7,167.8 551.8,169.8 553.1,171.8 C554.3,173.8 555.5,175.8 556.6,177.8 C557.7,179.8 558.7,181.8 559.4,183.8 C560.0,185.8 560.3,187.8 560.6,189.8 C560.8,191.8 561.0,193.8 561.1,195.8 C561.1,197.8 561.1,199.8 561.1,201.8 C561.0,203.8 560.8,205.8 560.7,207.8 C560.5,209.8 560.3,211.8 559.9,213.8 C559.6,215.8 559.1,217.8 558.7,219.8 C558.2,221.8 557.7,223.8 557.2,225.8 C556.7,227.8 556.2,229.8 555.6,231.8 C555.0,233.8 554.2,235.8 553.5,237.8 C552.8,239.8 552.2,241.8 551.5,243.8 C550.8,245.8 550.1,247.8 549.4,249.8 C548.7,251.8 547.9,253.8 547.1,255.8 C546.3,257.8 545.6,259.8 544.7,261.8 C543.9,263.8 543.0,265.8 542.0,267.8 C541.0,269.8 539.9,271.8 538.9,273.8 C537.8,275.8 536.7,277.8 535.6,279.8 C534.5,281.8 533.4,283.8 532.2,285.8 C531.0,287.8 529.8,289.8 528.6,291.8 C527.4,293.8 526.4,295.8 525.0,297.8 C523.7,299.8 522.1,301.8 520.5,303.8 C518.9,305.8 517.2,307.8 515.4,309.8 C513.6,311.8 511.7,313.8 509.7,315.8 C507.6,317.8 505.6,319.8 503.2,321.8 C500.9,323.8 496.8,326.8 495.5,327.8"/><path d="M523.3,136.9 C524.5,137.9 528.2,140.9 530.5,142.9 C532.9,144.9 535.5,146.9 537.6,148.9 C539.7,150.9 541.4,152.9 543.0,154.9 C544.6,156.9 546.0,158.9 547.4,160.9 C548.8,162.9 550.2,164.9 551.6,166.9 C553.0,168.9 554.5,170.9 555.9,172.9 C557.4,174.9 559.0,176.9 560.3,178.9 C561.6,180.9 562.9,182.9 563.7,184.9 C564.6,186.9 564.9,188.9 565.2,190.9 C565.5,192.9 565.7,194.9 565.8,196.9 C565.8,198.9 565.6,200.9 565.4,202.9 C565.2,204.9 564.8,206.9 564.5,208.9 C564.2,210.9 563.9,212.9 563.5,214.9 C563.1,216.9 562.7,218.9 562.3,220.9 C561.9,222.9 561.6,224.9 561.3,226.9 C561.0,228.9 560.8,230.9 560.5,232.9 C560.1,234.9 559.6,236.9 559.1,238.9 C558.7,240.9 558.2,242.9 557.6,244.9 C557.0,246.9 556.3,248.9 555.5,250.9 C554.8,252.9 553.8,254.9 552.9,256.9 C552.0,258.9 551.0,260.9 549.9,262.9 C548.9,264.9 547.7,266.9 546.6,268.9 C545.4,270.9 544.3,272.9 543.2,274.9 C542.1,276.9 541.0,278.9 540.0,280.9 C539.0,282.9 538.1,284.9 537.1,286.9 C536.1,288.9 535.2,290.9 534.2,292.9 C533.2,294.9 532.5,296.9 531.1,298.9 C529.8,300.9 528.0,302.9 526.2,304.9 C524.4,306.9 521.4,309.9 520.5,310.9"/><path d="M523.1,135.3 C524.3,136.3 527.5,139.3 530.0,141.3 C532.4,143.3 535.4,145.3 537.8,147.3 C540.2,149.3 542.4,151.3 544.3,153.3 C546.1,155.3 547.4,157.3 548.9,159.3 C550.3,161.3 551.7,163.3 553.0,165.3 C554.4,167.3 555.7,169.3 557.1,171.3 C558.5,173.3 560.1,175.3 561.5,177.3 C562.9,179.3 564.3,181.3 565.3,183.3 C566.3,185.3 567.0,187.3 567.6,189.3 C568.2,191.3 568.6,193.3 568.9,195.3 C569.2,197.3 569.3,199.3 569.4,201.3 C569.4,203.3 569.3,205.3 569.2,207.3 C569.1,209.3 569.0,211.3 568.8,213.3 C568.6,215.3 568.2,217.3 567.9,219.3 C567.5,221.3 567.2,223.3 566.9,225.3 C566.6,227.3 566.4,229.3 566.0,231.3 C565.6,233.3 565.1,235.3 564.6,237.3 C564.1,239.3 563.7,241.3 563.2,243.3 C562.7,245.3 562.1,247.3 561.5,249.3 C560.8,251.3 560.1,253.3 559.3,255.3 C558.5,257.3 557.7,259.3 556.8,261.3 C556.0,263.3 555.0,265.3 554.0,267.3 C552.9,269.3 551.8,271.3 550.7,273.3 C549.6,275.3 548.5,277.3 547.4,279.3 C546.3,281.3 545.3,283.3 544.3,285.3 C543.2,287.3 542.1,289.3 541.0,291.3 C539.9,293.3 539.1,295.3 537.8,297.3 C536.5,299.3 535.0,301.3 533.2,303.3 C531.5,305.3 529.5,307.3 527.4,309.3 C525.3,311.3 523.1,313.3 520.6,315.3 C518.2,317.3 515.7,319.3 512.8,321.3 C509.9,323.3 506.3,325.3 503.1,327.3 C499.8,329.3 496.9,331.3 493.1,333.3 C489.4,335.3 484.4,337.3 480.6,339.3 C476.8,341.3 472.0,344.3 470.3,345.3"/><path d="M525.7,137.0 C526.8,138.0 530.3,141.0 532.8,143.0 C535.3,145.0 538.2,147.0 540.5,149.0 C542.8,151.0 544.7,153.0 546.5,155.0 C548.4,157.0 550.0,159.0 551.6,161.0 C553.3,163.0 554.9,165.0 556.5,167.0 C558.1,169.0 559.8,171.0 561.4,173.0 C563.0,175.0 564.7,177.0 566.1,179.0 C567.5,181.0 568.8,183.0 569.6,185.0 C570.4,187.0 570.7,189.0 571.1,191.0 C571.5,193.0 571.7,195.0 571.9,197.0 C572.0,199.0 572.0,201.0 572.0,203.0 C572.1,205.0 572.1,207.0 572.2,209.0 C572.3,211.0 572.4,213.0 572.5,215.0 C572.5,217.0 572.5,219.0 572.6,221.0 C572.6,223.0 572.7,225.0 572.6,227.0 C572.6,229.0 572.6,231.0 572.3,233.0 C572.0,235.0 571.4,237.0 570.8,239.0 C570.2,241.0 569.7,243.0 568.9,245.0 C568.2,247.0 567.3,249.0 566.4,251.0 C565.6,253.0 564.6,255.0 563.7,257.0 C562.8,259.0 562.0,261.0 561.1,263.0 C560.3,265.0 559.4,267.0 558.5,269.0 C557.7,271.0 556.9,273.0 556.0,275.0 C555.2,277.0 554.5,279.0 553.7,281.0 C552.8,283.0 552.1,285.0 551.1,287.0 C550.1,289.0 549.0,291.0 547.9,293.0 C546.7,295.0 545.9,297.0 544.3,299.0 C542.6,301.0 540.1,303.0 537.9,305.0 C535.7,307.0 532.1,310.0 530.9,311.0"/><path d="M527.0,137.8 C528.5,138.8 532.9,141.8 535.8,143.8 C538.7,145.8 542.0,147.8 544.4,149.8 C546.8,151.8 548.4,153.8 550.1,155.8 C551.8,157.8 553.2,159.8 554.6,161.8 C556.0,163.8 557.2,165.8 558.6,167.8 C559.9,169.8 561.4,171.8 562.9,173.8 C564.3,175.8 565.9,177.8 567.2,179.8 C568.6,181.8 570.0,183.8 571.0,185.8 C572.0,187.8 572.6,189.8 573.4,191.8 C574.1,193.8 575.0,195.8 575.5,197.8 C576.1,199.8 576.4,201.8 576.8,203.8 C577.1,205.8 577.5,207.8 577.7,209.8 C577.9,211.8 578.1,213.8 578.1,215.8 C578.1,217.8 577.9,219.8 577.8,221.8 C577.6,223.8 577.5,225.8 577.3,227.8 C577.0,229.8 576.8,231.8 576.4,233.8 C576.0,235.8 575.4,237.8 574.9,239.8 C574.5,241.8 574.1,243.8 573.7,245.8 C573.2,247.8 572.6,249.8 572.1,251.8 C571.6,253.8 571.0,255.8 570.4,257.8 C569.9,259.8 569.4,261.8 568.7,263.8 C567.9,265.8 567.1,267.8 566.2,269.8 C565.2,271.8 564.2,273.8 563.2,275.8 C562.2,277.8 561.2,279.8 560.1,281.8 C559.0,283.8 557.9,285.8 556.7,287.8 C555.5,289.8 554.3,291.8 553.1,293.8 C551.9,295.8 551.3,297.8 549.7,299.8 C548.0,301.8 545.4,303.8 543.2,305.8 C541.1,307.8 539.2,309.8 536.8,311.8 C534.3,313.8 531.4,315.8 528.4,317.8 C525.4,319.8 522.1,321.8 518.6,323.8 C515.0,325.8 509.0,328.8 507.1,329.8"/><path d="M527.2,136.1 C528.4,137.1 531.8,140.1 534.4,142.1 C537.1,144.1 540.6,146.1 543.1,148.1 C545.7,150.1 547.8,152.1 549.7,154.1 C551.6,156.1 552.8,158.1 554.3,160.1 C555.7,162.1 557.0,164.1 558.4,166.1 C559.8,168.1 561.2,170.1 562.8,172.1 C564.3,174.1 566.1,176.1 567.7,178.1 C569.3,180.1 571.0,182.1 572.2,184.1 C573.5,186.1 574.5,188.1 575.5,190.1 C576.4,192.1 577.3,194.1 578.0,196.1 C578.7,198.1 579.3,200.1 579.8,202.1 C580.3,204.1 580.7,206.1 581.1,208.1 C581.4,210.1 581.9,212.1 582.1,214.1 C582.3,216.1 582.3,218.1 582.3,220.1 C582.4,222.1 582.4,224.1 582.4,226.1 C582.4,228.1 582.6,230.1 582.4,232.1 C582.2,234.1 581.7,236.1 581.3,238.1 C581.0,240.1 580.7,242.1 580.3,244.1 C579.9,246.1 579.5,248.1 579.0,250.1 C578.6,252.1 578.0,254.1 577.4,256.1 C576.9,258.1 576.4,260.1 575.7,262.1 C575.1,264.1 574.3,266.1 573.5,268.1 C572.7,270.1 571.7,272.1 570.8,274.1 C569.9,276.1 568.9,278.1 568.0,280.1 C567.0,282.1 566.1,284.1 565.1,286.1 C564.1,288.1 562.8,290.1 561.7,292.1 C560.6,294.1 560.0,296.1 558.5,298.1 C557.0,300.1 554.8,302.1 552.6,304.1 C550.5,306.1 546.8,309.1 545.6,310.1"/><path d="M528.6,137.9 C530.1,138.9 534.4,141.9 537.3,143.9 C540.2,145.9 543.7,147.9 546.1,149.9 C548.5,151.9 550.0,153.9 551.7,155.9 C553.4,157.9 554.9,159.9 556.4,161.9 C557.9,163.9 559.2,165.9 560.7,167.9 C562.3,169.9 564.1,171.9 565.8,173.9 C567.5,175.9 569.3,177.9 570.9,179.9 C572.5,181.9 574.1,183.9 575.4,185.9 C576.6,187.9 577.4,189.9 578.4,191.9 C579.3,193.9 580.4,195.9 581.1,197.9 C581.9,199.9 582.3,201.9 582.9,203.9 C583.5,205.9 584.2,207.9 584.8,209.9 C585.3,211.9 585.9,213.9 586.4,215.9 C586.8,217.9 587.1,219.9 587.4,221.9 C587.7,223.9 588.0,225.9 588.2,227.9 C588.3,229.9 588.4,231.9 588.3,233.9 C588.2,235.9 587.7,237.9 587.4,239.9 C587.0,241.9 586.8,243.9 586.3,245.9 C585.9,247.9 585.3,249.9 584.7,251.9 C584.2,253.9 583.6,255.9 583.1,257.9 C582.6,259.9 582.2,261.9 581.6,263.9 C581.0,265.9 580.3,267.9 579.6,269.9 C578.9,271.9 578.2,273.9 577.4,275.9 C576.7,277.9 576.0,279.9 575.1,281.9 C574.3,283.9 573.4,285.9 572.4,287.9 C571.4,289.9 570.3,291.9 569.1,293.9 C568.0,295.9 567.6,297.9 565.7,299.9 C563.9,301.9 560.5,303.9 558.0,305.9 C555.4,307.9 553.2,309.9 550.2,311.9 C547.2,313.9 543.7,315.9 540.1,317.9 C536.4,319.9 532.6,321.9 528.4,323.9 C524.2,325.9 519.9,327.9 515.0,329.9 C510.1,331.9 504.9,333.9 499.1,335.9 C493.3,337.9 483.4,340.9 480.2,341.9"/><path d="M527.9,134.4 C528.6,135.4 530.1,138.4 532.4,140.4 C534.7,142.4 538.6,144.4 541.5,146.4 C544.4,148.4 547.5,150.4 549.7,152.4 C551.9,154.4 553.0,156.4 554.5,158.4 C556.1,160.4 557.7,162.4 559.1,164.4 C560.6,166.4 561.7,168.4 563.4,170.4 C565.0,172.4 567.2,174.4 568.9,176.4 C570.7,178.4 572.5,180.4 574.0,182.4 C575.5,184.4 577.0,186.4 578.2,188.4 C579.5,190.4 580.4,192.4 581.5,194.4 C582.5,196.4 583.5,198.4 584.4,200.4 C585.3,202.4 586.1,204.4 586.9,206.4 C587.8,208.4 588.8,210.4 589.6,212.4 C590.3,214.4 591.0,216.4 591.5,218.4 C592.1,220.4 592.6,222.4 593.0,224.4 C593.5,226.4 594.0,228.4 594.2,230.4 C594.3,232.4 594.0,234.4 593.8,236.4 C593.6,238.4 593.3,240.4 592.9,242.4 C592.6,244.4 592.3,246.4 591.9,248.4 C591.4,250.4 590.8,252.4 590.4,254.4 C590.0,256.4 589.6,258.4 589.2,260.4 C588.9,262.4 588.6,264.4 588.1,266.4 C587.7,268.4 587.0,270.4 586.4,272.4 C585.8,274.4 585.3,276.4 584.6,278.4 C583.9,280.4 583.3,282.4 582.4,284.4 C581.5,286.4 580.5,288.4 579.4,290.4 C578.3,292.4 577.4,294.4 575.9,296.4 C574.4,298.4 572.7,300.4 570.4,302.4 C568.1,304.4 565.0,306.4 562.0,308.4 C559.1,310.4 556.1,312.4 552.8,314.4 C549.5,316.4 546.2,318.4 542.1,320.4 C538.0,322.4 530.4,325.4 528.1,326.4"/><path d="M529.4,134.1 C529.9,135.1 530.7,138.1 532.8,140.1 C534.8,142.1 538.7,144.1 541.6,146.1 C544.4,148.1 547.6,150.1 549.6,152.1 C551.7,154.1 552.5,156.1 554.0,158.1 C555.4,160.1 557.0,162.1 558.4,164.1 C559.9,166.1 561.0,168.1 562.8,170.1 C564.6,172.1 567.1,174.1 569.2,176.1 C571.2,178.1 573.2,180.1 575.0,182.1 C576.9,184.1 578.7,186.1 580.2,188.1 C581.6,190.1 582.7,192.1 583.9,194.1 C585.1,196.1 586.2,198.1 587.2,200.1 C588.2,202.1 588.9,204.1 589.8,206.1 C590.7,208.1 591.8,210.1 592.7,212.1 C593.5,214.1 594.3,216.1 595.1,218.1 C595.9,220.1 596.6,222.1 597.4,224.1 C598.1,226.1 599.0,228.1 599.5,230.1 C599.9,232.1 600.0,234.1 600.1,236.1 C600.2,238.1 600.0,240.1 599.9,242.1 C599.7,244.1 599.6,246.1 599.2,248.1 C598.9,250.1 598.2,252.1 597.8,254.1 C597.3,256.1 596.9,258.1 596.5,260.1 C596.1,262.1 595.7,264.1 595.3,266.1 C594.8,268.1 594.1,270.1 593.6,272.1 C593.1,274.1 592.6,276.1 592.1,278.1 C591.5,280.1 591.1,282.1 590.5,284.1 C589.8,286.1 589.0,288.1 588.2,290.1 C587.3,292.1 586.6,294.1 585.3,296.1 C584.0,298.1 582.5,300.1 580.1,302.1 C577.8,304.1 574.3,306.1 571.1,308.1 C567.9,310.1 564.7,312.1 561.0,314.1 C557.4,316.1 553.6,318.1 549.1,320.1 C544.5,322.1 538.9,324.1 533.7,326.1 C528.6,328.1 520.6,331.1 518.0,332.1"/><path d="M530.4,134.8 C531.0,135.8 532.1,138.8 534.2,140.8 C536.4,142.8 540.4,144.8 543.1,146.8 C545.8,148.8 548.6,150.8 550.5,152.8 C552.4,154.8 553.0,156.8 554.3,158.8 C555.7,160.8 557.0,162.8 558.4,164.8 C559.9,166.8 561.1,168.8 563.0,170.8 C564.9,172.8 567.5,174.8 569.7,176.8 C571.9,178.8 574.1,180.8 576.2,182.8 C578.2,184.8 580.3,186.8 582.0,188.8 C583.7,190.8 585.1,192.8 586.5,194.8 C587.9,196.8 589.2,198.8 590.3,200.8 C591.4,202.8 592.3,204.8 593.4,206.8 C594.4,208.8 595.7,210.8 596.7,212.8 C597.7,214.8 598.5,216.8 599.4,218.8 C600.3,220.8 601.2,222.8 602.2,224.8 C603.1,226.8 604.3,228.8 604.9,230.8 C605.5,232.8 605.7,234.8 606.0,236.8 C606.2,238.8 606.3,240.8 606.3,242.8 C606.4,244.8 606.3,246.8 606.1,248.8 C605.9,250.8 605.4,252.8 605.0,254.8 C604.7,256.8 604.4,258.8 604.0,260.8 C603.6,262.8 603.3,264.8 602.8,266.8 C602.4,268.8 601.7,270.8 601.2,272.8 C600.7,274.8 600.3,276.8 599.8,278.8 C599.4,280.8 599.1,282.8 598.6,284.8 C598.0,286.8 597.3,288.8 596.5,290.8 C595.8,292.8 595.4,294.8 594.0,296.8 C592.7,298.8 590.8,300.8 588.3,302.8 C585.8,304.8 582.3,306.8 578.9,308.8 C575.5,310.8 571.8,312.8 567.8,314.8 C563.8,316.8 557.0,319.8 554.8,320.8"/><path d="M470,152 L470.5,344"/></g>
<clipPath id="cfan"><path d="M322,226 L338,233 L350,250 L368,264 L392,279 L404,300 L374,314 L338,297 L322,270 Z M616,228 L603,236 L594,252 L580,266 L560,281 L548,300 L574,318 L602,302 L616,270 Z"/></clipPath>
<g clip-path="url(#cb)"><path d="M322,226 L338,233 L350,250 L368,264 L392,279 L404,300 L374,314 L338,297 L322,270 Z M616,228 L603,236 L594,252 L580,266 L560,281 L548,300 L574,318 L602,302 L616,270 Z" fill="#d3771f"/><g clip-path="url(#cfan)" fill="none" stroke="#2a1405" stroke-width="0.75"><path d="M331.0,228.0 Q347.0,235.0 383.0,262.0"/><path d="M331.4,232.0 Q347.9,239.8 383.4,266.5"/><path d="M331.8,236.0 Q348.8,244.6 383.8,271.0"/><path d="M332.2,240.0 Q349.7,249.4 384.2,275.5"/><path d="M332.6,244.0 Q350.6,254.2 384.6,280.0"/><path d="M333.0,248.0 Q351.5,259.0 385.0,284.5"/><path d="M333.4,252.0 Q352.4,263.8 385.4,289.0"/><path d="M333.8,256.0 Q353.3,268.6 385.8,293.5"/><path d="M334.2,260.0 Q354.2,273.4 386.2,298.0"/><path d="M336.1,264.0 Q356.6,278.2 388.1,302.5"/><path d="M338.0,268.0 Q359.0,283.0 390.0,307.0"/><path d="M339.9,272.0 Q361.4,287.8 391.9,311.5"/><path d="M341.8,276.0 Q363.8,292.6 393.8,316.0"/><path d="M343.7,280.0 Q366.2,297.4 395.7,320.5"/><path d="M345.6,284.0 Q368.6,302.2 397.6,325.0"/><path d="M347.5,288.0 Q371.0,307.0 399.5,329.5"/><path d="M349.4,292.0 Q373.4,311.8 401.4,334.0"/><path d="M607.0,230.0 Q599.0,243.0 567.0,268.0"/><path d="M606.7,234.2 Q598.2,247.6 566.7,272.2"/><path d="M606.4,238.4 Q597.4,252.2 566.4,276.4"/><path d="M606.1,242.6 Q596.6,256.8 566.1,280.6"/><path d="M605.8,246.8 Q595.8,261.4 565.8,284.8"/><path d="M605.5,251.0 Q595.0,266.0 565.5,289.0"/><path d="M605.2,255.2 Q594.2,270.6 565.2,293.2"/><path d="M604.9,259.4 Q593.4,275.2 564.9,297.4"/><path d="M604.6,263.6 Q592.6,279.8 564.6,301.6"/><path d="M604.3,267.8 Q591.8,284.4 564.3,305.8"/><path d="M602.2,272.0 Q589.2,289.0 562.2,310.0"/><path d="M600.1,276.2 Q586.6,293.6 560.1,314.2"/><path d="M598.0,280.4 Q584.0,298.2 558.0,318.4"/><path d="M595.9,284.6 Q581.4,302.8 555.9,322.6"/><path d="M593.8,288.8 Q578.8,307.4 553.8,326.8"/><path d="M591.7,293.0 Q576.2,312.0 551.7,331.0"/><path d="M589.6,297.2 Q573.6,316.6 549.6,335.2"/></g></g>
<path d="M472.0,139.9 C466.8,139.9 462.1,140.0 456.3,140.8 C450.5,141.6 444.1,142.9 437.2,144.7 C430.3,146.5 421.3,149.4 414.7,151.7 C408.1,154.0 403.1,156.0 397.3,158.6 C391.5,161.2 386.2,164.3 380.0,167.3 C373.8,170.3 366.6,170.3 360.3,176.5 C354.0,182.7 346.9,195.9 342.4,204.6 C337.9,213.3 335.1,221.6 333.4,228.5 C331.7,235.4 332.0,240.1 332.0,246.0 C332.0,251.9 332.1,258.3 333.4,264.0 C334.7,269.7 336.9,274.8 340.0,280.0 C343.1,285.2 346.7,290.5 352.0,295.0 C357.3,299.5 360.7,301.3 372.0,307.0 C383.3,312.7 403.5,322.8 420.0,329.0 C436.5,335.2 454.3,343.3 471.0,344.0 C487.7,344.7 506.0,336.8 520.0,333.0 C534.0,329.2 546.1,324.4 555.0,321.0 C563.9,317.6 567.4,315.9 573.4,312.5 C579.4,309.1 587.3,305.1 591.3,300.6 C595.3,296.1 595.3,291.7 597.3,285.7 C599.3,279.7 601.9,271.3 603.3,264.8 C604.6,258.3 605.1,252.4 605.4,246.9 C605.6,241.4 606.0,237.5 604.8,232.0 C603.6,226.5 600.7,219.6 598.0,214.0 C595.3,208.4 591.5,203.1 588.4,198.5 C585.3,193.9 583.9,191.3 579.4,186.6 C574.9,181.8 565.8,173.5 561.5,170.0 C557.2,166.5 557.7,167.8 553.5,165.6 C549.3,163.4 541.9,159.5 536.1,156.9 C530.3,154.3 524.6,152.2 518.8,150.0 C513.0,147.8 506.6,145.4 501.4,143.9 C496.2,142.4 492.4,141.5 487.5,140.8 C482.6,140.1 477.2,139.9 472.0,139.9Z" fill="none" stroke="#2a1405" stroke-width="1"/>
<path d="M370.0,164.5 C368.3,163.9 363.9,162.0 360.0,161.0 C356.1,160.0 351.2,159.5 346.5,158.7 C341.8,157.8 336.6,156.5 331.6,155.9 C326.6,155.3 321.3,154.8 316.6,154.9 C311.9,155.1 307.6,155.4 303.6,156.8 C299.6,158.2 295.7,160.2 292.4,163.3 C289.1,166.4 285.9,171.5 284.0,175.4 C282.1,179.3 281.2,182.6 280.8,186.6 C280.4,190.6 281.0,195.8 281.6,199.7 C282.2,203.6 283.1,206.6 284.2,210.0 C285.3,213.4 286.4,216.4 288.4,220.0 C290.4,223.6 292.9,228.2 296.0,231.8 C299.1,235.5 302.8,238.7 306.8,241.9 C310.9,245.1 315.8,248.2 320.3,251.0 C324.8,253.8 329.2,256.2 333.7,258.7 C338.2,261.2 342.6,263.8 347.1,266.2 C351.6,268.6 356.4,271.0 360.5,273.0 C364.6,275.0 367.8,276.3 371.4,278.0 C375.0,279.7 380.2,282.2 382.0,283.0 L382.0,276.0 C380.1,275.1 374.7,272.7 370.6,270.4 C366.5,268.1 361.7,264.8 357.2,262.0 C352.7,259.2 348.3,256.3 343.8,253.6 C339.3,250.9 334.5,248.4 330.3,246.0 C326.1,243.6 322.5,242.1 318.6,239.4 C314.7,236.7 310.2,233.2 306.8,230.0 C303.4,226.8 300.9,223.3 298.5,220.0 C296.1,216.7 294.1,213.4 292.6,210.0 C291.1,206.6 290.1,203.6 289.6,199.7 C289.1,195.8 289.2,190.3 289.6,186.6 C290.0,182.9 290.6,179.8 292.0,177.3 C293.4,174.8 295.8,173.4 298.0,171.7 C300.2,170.0 302.3,168.1 305.4,167.0 C308.5,165.9 312.2,165.3 316.6,165.2 C321.0,165.0 326.6,165.5 331.6,166.1 C336.6,166.7 342.1,168.1 346.5,168.9 C350.9,169.7 354.8,170.4 358.0,171.0 C361.2,171.6 364.7,172.2 366.0,172.5Z" fill="#e9a0d2" stroke="#2a1405" stroke-width="0.8" stroke-linejoin="round"/>
<path d="M560.0,171.6 C563.2,169.4 572.1,161.8 579.4,158.2 C586.7,154.6 597.2,151.6 603.7,150.3 C610.2,149.0 614.0,149.7 618.7,150.3 C623.4,150.9 627.4,152.0 631.7,154.0 C636.1,156.0 640.9,159.1 644.8,162.4 C648.7,165.7 652.5,169.9 655.0,173.6 C657.5,177.3 658.9,181.1 659.7,184.8 C660.5,188.5 660.5,192.3 660.0,196.0 C659.5,199.7 658.5,203.5 656.9,207.2 C655.3,210.9 653.2,214.7 650.4,218.4 C647.6,222.1 643.4,226.0 640.0,229.6 C636.6,233.2 633.2,236.3 629.9,240.0 C626.6,243.7 623.8,248.4 620.0,251.6 C616.2,254.8 611.5,256.5 607.2,259.0 C602.9,261.5 598.5,263.7 594.0,266.5 C589.5,269.3 584.3,273.2 580.0,275.8 C575.7,278.4 570.0,281.0 568.0,282.0 L566.0,275.0 C567.9,273.9 573.2,271.1 577.3,268.4 C581.4,265.7 585.7,262.1 590.4,259.0 C595.1,255.9 600.6,252.9 605.3,249.7 C610.0,246.5 614.6,243.3 618.7,240.0 C622.8,236.7 626.6,232.9 629.9,229.6 C633.1,226.3 635.7,223.6 638.2,220.2 C640.7,216.8 643.2,212.7 644.8,209.0 C646.4,205.3 647.1,201.5 647.6,197.8 C648.1,194.1 648.1,190.0 647.6,186.6 C647.1,183.2 646.4,180.4 644.8,177.3 C643.2,174.2 641.0,170.6 638.2,168.0 C635.4,165.4 631.6,163.1 628.0,161.5 C624.4,159.9 620.5,159.0 616.8,158.7 C613.1,158.4 610.8,158.7 605.6,159.6 C600.4,160.5 591.8,161.7 585.4,164.2 C579.0,166.7 570.5,172.9 567.5,174.6Z" fill="#e9a0d2" stroke="#2a1405" stroke-width="0.8" stroke-linejoin="round"/>
<path d="M299.0,168.5 C298.2,169.2 295.6,171.2 294.5,172.5 C293.4,173.8 292.7,175.8 292.3,176.5" fill="none" stroke="#2a1405" stroke-width="0.6"/>
<path d="M386.0,286.0 C386.2,283.0 394.3,280.7 400.0,283.0 C405.7,285.3 413.3,293.8 420.0,300.0 C426.7,306.2 434.0,313.7 440.0,320.0 C446.0,326.3 454.3,334.2 456.0,338.0 C457.7,341.8 453.3,344.5 450.0,343.0 C446.7,341.5 442.0,334.0 436.0,329.0 C430.0,324.0 420.2,317.7 414.0,313.0 C407.8,308.3 403.7,305.5 399.0,301.0 C394.3,296.5 385.8,289.0 386.0,286.0Z" fill="#fcd7a8"/>
<path d="M560.0,280.0 C560.0,278.3 553.7,280.0 548.0,283.0 C542.3,286.0 532.7,291.8 526.0,298.0 C519.3,304.2 513.5,313.3 508.0,320.0 C502.5,326.7 494.5,334.5 493.0,338.0 C491.5,341.5 495.8,342.8 499.0,341.0 C502.2,339.2 507.8,332.3 512.0,327.0 C516.2,321.7 518.0,314.7 524.0,309.0 C530.0,303.3 542.0,297.8 548.0,293.0 C554.0,288.2 560.0,281.7 560.0,280.0Z" fill="#fcd7a8"/>
<path d="M337.5,280.5 Q340.2,276.5 345.0,276.8 Q349.7,276.6 352.4,280.5 Q356.7,279.3 359.9,282.4 Q367.2,280.2 372.9,285.2 Q378.9,284.9 382.2,289.9 Q389.1,289.6 393.0,295.3 Q401.6,295.4 406.0,302.8 Q412.3,302.9 415.5,308.4 Q423.6,307.6 428.5,314.0 Q435.8,316.0 437.8,323.3 Q445.1,325.3 447.2,332.6 Q452.5,334.1 454.0,339.5 Q453.5,343.9 449.4,345.8 Q444.3,349.9 438.2,347.7 Q430.0,350.5 423.3,344.9 Q414.8,347.2 408.4,341.2 Q400.5,342.5 395.3,336.5 Q386.6,336.4 382.2,329.0 Q372.1,328.5 367.3,319.7 Q357.1,316.8 354.3,306.6 Q346.5,303.6 345.0,295.4 Q339.1,292.5 338.4,286.0 Q336.4,283.5 337.5,280.5Z" fill="#e9a0d2" stroke="#2a1405" stroke-width="0.8"/>
<path d="M582.0,279.9 Q584.9,281.9 584.7,285.4 Q586.5,291.8 582.0,296.6 Q581.8,302.9 576.3,306.0 Q575.2,312.7 568.9,315.3 Q565.4,322.2 557.7,322.8 Q552.7,329.3 544.6,328.4 Q543.0,334.2 537.2,335.8 Q533.2,341.7 526.0,341.4 Q521.0,347.9 512.9,347.0 Q506.0,352.1 498.0,348.9 Q493.2,349.1 490.5,345.1 Q489.9,341.8 492.4,339.6 Q493.6,332.6 500.2,330.0 Q502.8,323.7 509.5,322.6 Q508.3,315.9 513.3,311.4 Q514.9,305.6 520.7,304.0 Q523.7,296.2 531.9,294.6 Q537.8,287.6 546.9,289.0 Q552.3,281.1 561.8,281.6 Q565.2,276.3 571.5,276.5 Q577.7,275.3 582.0,279.9Z" fill="#e9a0d2" stroke="#2a1405" stroke-width="0.8"/>
<g fill="none" stroke="#2a1405" stroke-width="0.8"><path d="M352.0,281.0 C352.7,282.5 356.3,287.5 356.0,290.0 C355.7,292.5 351.0,295.0 350.0,296.0"/><path d="M350.0,296.0 C351.3,296.7 355.3,300.0 358.0,300.0 C360.7,300.0 365.0,298.0 366.0,296.0 C367.0,294.0 364.3,289.3 364.0,288.0"/><path d="M364.0,288.0 C365.3,288.7 370.0,290.0 372.0,292.0 C374.0,294.0 376.3,297.7 376.0,300.0 C375.7,302.3 371.0,305.0 370.0,306.0"/><path d="M358.0,309.0 C359.3,309.5 363.7,312.2 366.0,312.0 C368.3,311.8 369.7,308.3 372.0,308.0 C374.3,307.7 378.0,308.3 380.0,310.0 C382.0,311.7 383.3,316.7 384.0,318.0"/><path d="M376.0,300.0 C377.7,299.7 383.0,297.0 386.0,298.0 C389.0,299.0 393.3,303.3 394.0,306.0 C394.7,308.7 390.7,312.7 390.0,314.0"/><path d="M390.0,314.0 C391.3,314.7 395.7,318.3 398.0,318.0 C400.3,317.7 403.3,314.0 404.0,312.0 C404.7,310.0 402.3,307.0 402.0,306.0"/><path d="M372.0,322.0 C373.3,322.7 377.3,326.0 380.0,326.0 C382.7,326.0 386.0,321.7 388.0,322.0 C390.0,322.3 392.0,326.0 392.0,328.0 C392.0,330.0 388.7,333.0 388.0,334.0"/><path d="M404.0,312.0 C405.3,312.7 410.3,314.0 412.0,316.0 C413.7,318.0 414.7,321.7 414.0,324.0 C413.3,326.3 409.0,329.0 408.0,330.0"/><path d="M396.0,336.0 C397.0,335.0 399.7,330.7 402.0,330.0 C404.3,329.3 408.0,330.3 410.0,332.0 C412.0,333.7 413.3,338.7 414.0,340.0"/><path d="M414.0,324.0 C415.3,323.7 419.7,321.3 422.0,322.0 C424.3,322.7 427.7,325.7 428.0,328.0 C428.3,330.3 426.0,334.3 424.0,336.0 C422.0,337.7 417.3,337.7 416.0,338.0"/><path d="M428.0,328.0 C429.3,328.3 434.3,328.3 436.0,330.0 C437.7,331.7 438.7,335.7 438.0,338.0 C437.3,340.3 433.0,343.0 432.0,344.0"/><path d="M424.0,345.0 C424.3,343.8 425.7,339.2 426.0,338.0"/><path d="M438.0,338.0 C439.0,338.0 442.3,337.0 444.0,338.0 C445.7,339.0 447.3,343.0 448.0,344.0"/><path d="M344.0,286.0 C344.7,287.0 347.8,290.0 348.0,292.0 C348.2,294.0 345.5,297.0 345.0,298.0"/><path d="M382.0,290.0 C381.7,291.0 380.3,295.0 380.0,296.0"/><path d="M576.0,283.0 C575.0,284.5 570.3,289.2 570.0,292.0 C569.7,294.8 573.3,298.7 574.0,300.0"/><path d="M566.0,284.0 C565.0,285.7 560.3,290.7 560.0,294.0 C559.7,297.3 564.3,300.7 564.0,304.0 C563.7,307.3 559.0,312.3 558.0,314.0"/><path d="M574.0,300.0 C573.0,301.3 570.3,307.0 568.0,308.0 C565.7,309.0 561.3,306.3 560.0,306.0"/><path d="M556.0,290.0 C554.7,291.7 548.7,296.7 548.0,300.0 C547.3,303.3 552.3,306.7 552.0,310.0 C551.7,313.3 547.0,318.3 546.0,320.0"/><path d="M546.0,320.0 C545.0,318.7 542.0,312.7 540.0,312.0 C538.0,311.3 534.7,313.7 534.0,316.0 C533.3,318.3 535.7,324.3 536.0,326.0"/><path d="M540.0,298.0 C539.0,299.3 536.0,305.0 534.0,306.0 C532.0,307.0 529.0,304.3 528.0,304.0"/><path d="M528.0,312.0 C527.3,313.7 523.7,319.0 524.0,322.0 C524.3,325.0 530.0,327.3 530.0,330.0 C530.0,332.7 525.0,336.7 524.0,338.0"/><path d="M536.0,326.0 C535.0,327.0 531.0,331.0 530.0,332.0"/><path d="M518.0,320.0 C517.0,321.3 512.3,325.0 512.0,328.0 C511.7,331.0 516.3,335.2 516.0,338.0 C515.7,340.8 511.0,343.8 510.0,345.0"/><path d="M524.0,338.0 C523.0,338.7 519.0,341.3 518.0,342.0"/><path d="M506.0,332.0 C505.0,333.0 500.3,335.7 500.0,338.0 C499.7,340.3 503.3,344.7 504.0,346.0"/><path d="M552.0,310.0 C553.0,311.3 557.0,316.7 558.0,318.0"/></g>
<path d="M351.3,108.0 C351.1,111.7 350.4,121.3 349.9,130.0 C349.4,138.7 348.6,151.7 348.2,160.0 C347.8,168.3 347.4,174.7 347.2,180.0 C347.0,185.3 346.8,187.2 347.0,192.0 C347.2,196.8 347.8,203.0 348.7,208.7 C349.6,214.4 351.1,220.6 352.5,226.0 C353.9,231.4 355.2,236.8 356.8,241.2 C358.4,245.6 360.4,248.7 362.4,252.4 C364.3,256.1 366.3,259.9 368.5,263.6 C370.7,267.3 373.5,271.0 375.8,274.7 C378.1,278.4 379.8,282.6 382.5,286.0 C385.2,289.4 388.8,292.3 392.0,295.0 C395.2,297.7 398.7,299.8 402.0,302.0 C405.3,304.2 409.1,306.5 412.0,308.0 C414.9,309.5 418.2,310.5 419.5,311.0 L425.0,306.0 C423.3,304.8 418.3,301.2 415.0,299.0 C411.7,296.8 408.3,295.2 405.0,293.0 C401.7,290.8 398.2,289.1 395.4,286.0 C392.6,282.9 390.2,278.4 388.0,274.7 C385.8,271.0 384.0,267.3 382.0,263.6 C380.0,259.9 377.8,256.1 375.8,252.4 C373.8,248.7 371.8,245.4 370.2,241.2 C368.6,237.0 367.3,232.4 366.0,227.0 C364.7,221.6 363.5,214.9 362.6,208.7 C361.7,202.5 361.2,195.1 360.8,190.0 C360.4,184.9 360.2,183.0 360.5,178.0 C360.8,173.0 361.8,168.0 362.7,160.0 C363.6,152.0 365.0,138.7 365.7,130.0 C366.4,121.3 366.7,111.7 366.9,108.0Z" fill="url(#urL)"/>
<path d="M351.3,108.0 C351.1,111.7 350.4,121.3 349.9,130.0 C349.4,138.7 348.6,151.7 348.2,160.0 C347.8,168.3 347.4,174.7 347.2,180.0 C347.0,185.3 346.8,187.2 347.0,192.0 C347.2,196.8 347.8,203.0 348.7,208.7 C349.6,214.4 351.1,220.6 352.5,226.0 C353.9,231.4 355.2,236.8 356.8,241.2 C358.4,245.6 360.4,248.7 362.4,252.4 C364.3,256.1 366.3,259.9 368.5,263.6 C370.7,267.3 373.5,271.0 375.8,274.7 C378.1,278.4 379.8,282.6 382.5,286.0 C385.2,289.4 388.8,292.3 392.0,295.0 C395.2,297.7 398.7,299.8 402.0,302.0 C405.3,304.2 409.1,306.5 412.0,308.0 C414.9,309.5 418.2,310.5 419.5,311.0" fill="none" stroke="url(#urLs)" stroke-width="0.8"/>
<path d="M366.9,108.0 C366.7,111.7 366.4,121.3 365.7,130.0 C365.0,138.7 363.6,152.0 362.7,160.0 C361.8,168.0 360.8,173.0 360.5,178.0 C360.2,183.0 360.4,184.9 360.8,190.0 C361.2,195.1 361.7,202.5 362.6,208.7 C363.5,214.9 364.7,221.6 366.0,227.0 C367.3,232.4 368.6,237.0 370.2,241.2 C371.8,245.4 373.8,248.7 375.8,252.4 C377.8,256.1 380.0,259.9 382.0,263.6 C384.0,267.3 385.8,271.0 388.0,274.7 C390.2,278.4 392.6,282.9 395.4,286.0 C398.2,289.1 401.7,290.8 405.0,293.0 C408.3,295.2 411.7,296.8 415.0,299.0 C418.3,301.2 423.3,304.8 425.0,306.0" fill="none" stroke="url(#urLs)" stroke-width="0.8"/>
<path d="M578.0,114.0 C578.8,117.9 581.1,130.3 582.6,137.3 C584.1,144.3 585.9,149.8 587.3,156.0 C588.7,162.2 590.0,168.9 591.0,174.6 C592.0,180.3 593.2,184.3 593.2,190.0 C593.2,195.7 592.5,202.5 591.3,208.7 C590.0,214.9 588.0,221.1 585.7,227.3 C583.4,233.5 580.6,239.8 577.3,246.0 C574.0,252.2 569.1,259.8 566.0,264.6 C562.9,269.4 562.9,271.9 558.7,275.0 C554.5,278.1 546.6,280.0 541.0,283.0 C535.4,286.0 529.3,289.7 525.0,293.0 C520.7,296.3 516.7,301.3 515.0,303.0 L517.6,306.0 C518.1,305.4 518.1,304.5 520.4,302.5 C522.7,300.5 526.9,296.6 531.6,294.0 C536.3,291.4 543.7,288.8 548.4,287.0 C553.1,285.2 555.2,285.0 559.6,283.0 C564.0,281.0 570.8,278.1 574.5,275.0 C578.2,271.9 579.2,269.4 582.0,264.6 C584.8,259.8 588.3,252.2 591.3,246.0 C594.2,239.8 597.4,233.5 599.7,227.3 C602.0,221.1 603.9,214.9 605.3,208.7 C606.7,202.5 607.7,195.7 608.0,190.0 C608.3,184.3 607.6,180.3 606.9,174.6 C606.2,168.9 605.2,162.2 604.0,156.0 C602.8,149.8 601.2,144.3 599.4,137.3 C597.5,130.3 594.0,117.9 592.9,114.0Z" fill="url(#urR)"/>
<path d="M578.0,114.0 C578.8,117.9 581.1,130.3 582.6,137.3 C584.1,144.3 585.9,149.8 587.3,156.0 C588.7,162.2 590.0,168.9 591.0,174.6 C592.0,180.3 593.2,184.3 593.2,190.0 C593.2,195.7 592.5,202.5 591.3,208.7 C590.0,214.9 588.0,221.1 585.7,227.3 C583.4,233.5 580.6,239.8 577.3,246.0 C574.0,252.2 569.1,259.8 566.0,264.6 C562.9,269.4 562.9,271.9 558.7,275.0 C554.5,278.1 546.6,280.0 541.0,283.0 C535.4,286.0 529.3,289.7 525.0,293.0 C520.7,296.3 516.7,301.3 515.0,303.0" fill="none" stroke="url(#urRs)" stroke-width="0.8"/>
<path d="M592.9,114.0 C594.0,117.9 597.5,130.3 599.4,137.3 C601.2,144.3 602.8,149.8 604.0,156.0 C605.2,162.2 606.2,168.9 606.9,174.6 C607.6,180.3 608.3,184.3 608.0,190.0 C607.7,195.7 606.7,202.5 605.3,208.7 C603.9,214.9 602.0,221.1 599.7,227.3 C597.4,233.5 594.2,239.8 591.3,246.0 C588.3,252.2 584.8,259.8 582.0,264.6 C579.2,269.4 578.2,271.9 574.5,275.0 C570.8,278.1 564.0,281.0 559.6,283.0 C555.2,285.0 553.1,285.2 548.4,287.0 C543.7,288.8 536.3,291.4 531.6,294.0 C526.9,296.6 522.7,300.5 520.4,302.5 C518.1,304.5 518.1,305.4 517.6,306.0" fill="none" stroke="url(#urRs)" stroke-width="0.8"/>
<path d="M419.5,311 L425,306 C432,314 440,326 447,335 L445,337 C436,326 428,318 419.5,311Z" fill="#fcd7a8" stroke="#2a1405" stroke-width="0.6"/>
<path d="M387.3,272.5 C388.5,271.1 392.2,269.8 395.8,271.0 C399.4,272.2 405.1,276.8 409.2,279.5 C413.3,282.2 416.9,283.6 420.6,287.0 C424.4,290.4 428.0,296.3 431.7,300.0 C435.4,303.7 439.6,305.7 443.0,309.4 C446.4,313.1 449.7,318.3 452.3,322.4 C454.9,326.5 457.2,330.4 458.6,334.0 C460.0,337.6 461.0,342.8 460.5,344.0 C460.0,345.2 457.5,342.2 455.5,341.0 C453.5,339.8 451.6,339.3 448.6,336.5 C445.6,333.7 441.1,328.0 437.4,324.4 C433.7,320.8 429.6,317.8 426.2,315.0 C422.8,312.2 420.0,310.7 416.9,307.6 C413.8,304.5 411.1,299.8 407.6,296.4 C404.2,293.0 399.3,289.9 396.2,287.0 C393.1,284.1 390.4,281.6 388.9,279.2 C387.4,276.8 386.1,273.9 387.3,272.5Z" fill="#e9a0d2" stroke="#2a1405" stroke-width="0.8"/>
<path d="M563.8,266.3 C562.4,264.8 555.9,263.5 552.0,264.0 C548.1,264.5 544.1,267.0 540.2,269.5 C536.4,272.0 532.6,275.8 528.9,278.9 C525.1,282.0 521.1,284.8 517.7,288.2 C514.3,291.6 511.2,295.4 508.4,299.4 C505.6,303.4 503.4,308.0 500.9,312.4 C498.4,316.8 495.8,321.6 493.5,325.5 C491.2,329.4 488.8,332.8 487.2,336.0 C485.6,339.2 483.9,344.0 484.2,345.0 C484.5,346.0 487.6,342.9 489.0,342.0 C490.4,341.1 490.7,341.4 492.3,339.6 C493.9,337.8 496.2,334.5 498.8,331.2 C501.4,327.9 505.0,324.0 508.1,320.0 C511.2,316.0 514.3,310.7 517.4,307.0 C520.5,303.3 523.4,300.4 526.8,297.6 C530.2,294.8 534.3,292.7 538.0,290.2 C541.7,287.7 545.5,285.5 549.2,282.7 C552.9,279.9 558.0,275.9 560.4,273.2 C562.8,270.5 565.2,267.8 563.8,266.3Z" fill="#e9a0d2" stroke="#2a1405" stroke-width="0.8"/>
<path d="M274.0,117.0 L357.0,143.5 M347.1,145.0 L357.0,143.5 L349.8,136.5" fill="none" stroke="#1fc1f2" stroke-width="2.2" stroke-linecap="butt" stroke-linejoin="round"/>
<path d="M210.5,159.5 L282.0,180.0 M272.2,181.8 L282.0,180.0 L274.6,173.3" fill="none" stroke="#1fc1f2" stroke-width="2.2" stroke-linecap="butt" stroke-linejoin="round"/>
<path d="M201.5,281.0 L410.0,294.0 M400.8,297.9 L410.0,294.0 L401.3,289.0" fill="none" stroke="#1fc1f2" stroke-width="2.2" stroke-linecap="butt" stroke-linejoin="round"/>
<path d="M191.0,358.5 L390.0,320.0 M382.0,326.1 L390.0,320.0 L380.4,317.3" fill="none" stroke="#1fc1f2" stroke-width="2.2" stroke-linecap="butt" stroke-linejoin="round"/>
<path d="M230.0,454.0 L452.0,378.0 M445.0,385.1 L452.0,378.0 L442.1,376.7" fill="none" stroke="#1fc1f2" stroke-width="2.2" stroke-linecap="butt" stroke-linejoin="round"/>
<path d="M349.5,504.5 L467.0,418.0 M462.4,426.9 L467.0,418.0 L457.2,419.7" fill="none" stroke="#1fc1f2" stroke-width="2.2" stroke-linecap="butt" stroke-linejoin="round"/>
<path d="M445.2,107.8 L471.0,198.0 M464.3,190.6 L471.0,198.0 L472.8,188.2" fill="none" stroke="#1fc1f2" stroke-width="2.2" stroke-linecap="butt" stroke-linejoin="round"/>
<path d="M754.0,170.4 L698.0,195.5 M704.4,187.8 L698.0,195.5 L708.0,195.9" fill="none" stroke="#1fc1f2" stroke-width="2.2" stroke-linecap="butt" stroke-linejoin="round"/>
<path d="M725.0,410.0 L574.5,390.0 M584.0,386.8 L574.5,390.0 L582.8,395.6" fill="none" stroke="#1fc1f2" stroke-width="2.2" stroke-linecap="butt" stroke-linejoin="round"/>
<path d="M668.5,511.5 L549.5,452.0 M559.5,452.0 L549.5,452.0 L555.5,460.0" fill="none" stroke="#1fc1f2" stroke-width="2.2" stroke-linecap="butt" stroke-linejoin="round"/>
<g fill="#000"><text x="0" y="22.2" text-anchor="start" font-size="24" >Figure403 - Male Bladder and Ductus Deferens (posterior aspect)</text><rect x="0" y="24.3" width="697" height="1.3" fill="#333"/><text x="259" y="110.6" text-anchor="middle" font-size="22" >Ureter</text><text x="450.2" y="75.6" text-anchor="middle" font-size="22" >Urinary</text><text x="450.2" y="100.6" text-anchor="middle" font-size="22" >bladder</text><text x="156" y="149.6" text-anchor="middle" font-size="22" >Ductus</text><text x="156" y="174.6" text-anchor="middle" font-size="22" >deferens</text><text x="817" y="157.7" text-anchor="middle" font-size="22" >Superior</text><text x="817" y="182.4" text-anchor="middle" font-size="22" >pubic ramus</text><text x="106" y="267.5" text-anchor="middle" font-size="22" >Ampulla of the</text><text x="106" y="293.3" text-anchor="middle" font-size="22" >Ductus deferens</text><text x="137" y="355.2" text-anchor="middle" font-size="22" >Seminal</text><text x="137" y="381.3" text-anchor="middle" font-size="22" >vesicles</text><text x="184" y="464.6" text-anchor="middle" font-size="22" >Prostate</text><text x="184" y="489.6" text-anchor="middle" font-size="22" >gland</text><text x="331" y="528.6" text-anchor="middle" font-size="22" >Urethra</text><text x="771" y="412.6" text-anchor="middle" font-size="22" >Inferior</text><text x="771" y="437.6" text-anchor="middle" font-size="22" >pubic ramus</text><text x="751" y="531.6" text-anchor="middle" font-size="22" >Pelvic diaphragm</text><text transform="translate(1139.6,7) rotate(90)" font-size="10.1" text-anchor="start">Adapted from Inner Man by Leonard Dark 2008</text></g>
</svg>
</body></html>
